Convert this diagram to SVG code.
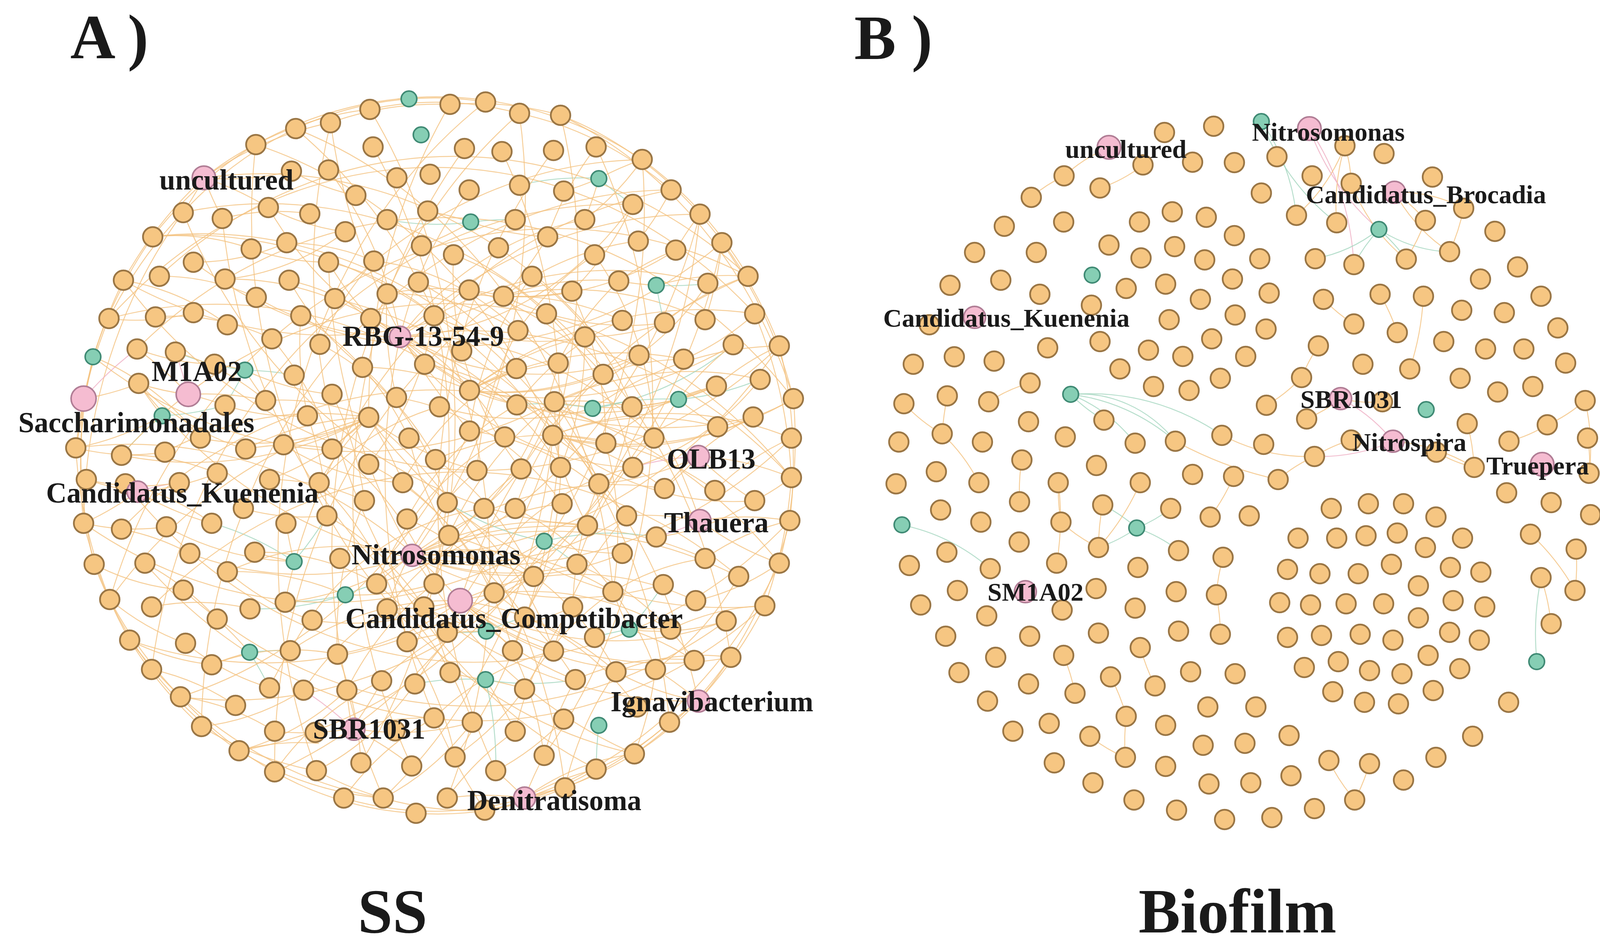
<svg xmlns="http://www.w3.org/2000/svg" width="6235" height="2436" viewBox="0 0 6235 2436">
<style>
.e path{fill:none;stroke:#f4c27f;stroke-width:2.4;opacity:.8;vector-effect:non-scaling-stroke}
.e path.g{stroke:#a3d6bf}
.e path.p{stroke:#f0b0c5}
.o circle{fill:#f6c682;stroke:#9a7645;stroke-width:4.5}
.g circle{fill:#86ceb4;stroke:#3f8a74;stroke-width:4}
.p circle{fill:#f5bcd1;stroke:#b07d95;stroke-width:4}
text{font-family:"Liberation Serif","Times New Roman",serif;font-weight:bold;fill:#1a1a1a}
.la{font-size:73px}.lb{font-size:66px}.lc{font-size:68px}
.h{font-size:160px}
.ti{font-size:160px;text-anchor:middle}
</style>
<rect width="6235" height="2436" fill="#ffffff"/>
<g id="connectors">
<g class="e" id="edges-A" transform="matrix(1.339 0 0 1.553 0 0)">
<path d="M782 163A700 700 0 0 1 928 168"/><path d="M860 172A700 700 0 0 1 1072 190"/><path d="M993 187A700 700 0 0 1 1283 313"/><path d="M1072 190A700 700 0 0 1 1338 353"/><path d="M1228 263A700 700 0 0 1 1430 455"/><path d="M1338 353A700 700 0 0 1 1490 570"/><path d="M1380 400A700 700 0 0 1 1517 657"/><path d="M1443 517A700 700 0 0 1 1513 787"/><path d="M1490 570A700 700 0 0 1 1510 858"/><path d="M1517 657A700 700 0 0 1 1490 928"/><path d="M1513 787A700 700 0 0 1 1462 998"/><path d="M1510 858A700 700 0 0 1 1397 1083"/><path d="M1462 998A700 700 0 0 1 1335 1155"/><path d="M1397 1083A700 700 0 0 1 1213 1242"/><path d="M1280 1190A700 700 0 0 1 1080 1298"/><path d="M1213 1242A700 700 0 0 1 1003 1315"/><path d="M1140 1267A700 700 0 0 1 927 1335"/><path d="M1080 1298A700 700 0 0 1 795 1340"/><path d="M1003 1315A700 700 0 0 1 657 1315"/><path d="M927 1335A700 700 0 0 1 605 1270"/><path d="M795 1340A700 700 0 0 1 525 1272"/><path d="M733 1315A700 700 0 0 1 457 1237"/><path d="M605 1270A700 700 0 0 1 385 1197"/><path d="M525 1272A700 700 0 0 1 345 1148"/><path d="M457 1237A700 700 0 0 1 290 1103"/><path d="M385 1197A700 700 0 0 1 248 1055"/><path d="M345 1148A700 700 0 0 1 210 988"/><path d="M290 1103A700 700 0 0 1 180 930"/><path d="M248 1055A700 700 0 0 1 160 862"/><path d="M210 988A700 700 0 0 1 145 738"/><path d="M180 930A700 700 0 0 1 160 657"/><path d="M160 862A700 700 0 0 1 178 588"/><path d="M145 738A700 700 0 0 1 208 525"/><path d="M160 657A700 700 0 0 1 236 462"/><path d="M178 588A700 700 0 0 1 292 390"/><path d="M208 525A700 700 0 0 1 350 350"/><path d="M236 462A700 700 0 0 1 390 293"/><path d="M292 390A700 700 0 0 1 489 238"/><path d="M350 350A700 700 0 0 1 565 212"/><path d="M390 293A700 700 0 0 1 632 202"/><path d="M489 238A700 700 0 0 1 707 180"/><path d="M565 212A700 700 0 0 1 782 163"/><path d="M632 202A700 700 0 0 1 860 172"/><path d="M707 180A700 700 0 0 1 993 187"/><path d="M1072 190A800 800 0 0 1 1517 657"/><path d="M1490 928A800 800 0 0 1 1003 1315"/><path d="M733 1315A800 800 0 0 1 248 1055"/><path d="M160 862A800 800 0 0 1 350 350"/><path d="M489 238A800 800 0 0 1 1228 263"/>
<path d="M765 555A600 600 0 0 1 1118 362"/><path d="M765 555A600 600 0 0 0 1210 337"/><path d="M765 555A600 600 0 0 1 897 313"/><path d="M765 555A600 600 0 0 0 628 280"/><path d="M765 555A900 900 0 0 1 1338 353"/><path d="M765 555A600 600 0 0 0 988 667"/><path d="M765 555A700 700 0 0 1 1250 722"/><path d="M765 555A900 900 0 0 0 1440 687"/><path d="M765 555A600 600 0 0 1 1072 770"/><path d="M765 555A600 600 0 0 0 1210 770"/><path d="M765 555A800 800 0 0 1 1353 467"/><path d="M765 555A600 600 0 0 1 513 342"/><path d="M765 555A600 600 0 0 0 430 460"/><path d="M765 555A600 600 0 0 1 490 490"/><path d="M765 555A600 600 0 0 0 1222 585"/>
<path d="M788 915A600 600 0 0 1 1123 866"/><path d="M788 915A600 600 0 0 0 1198 850"/><path d="M788 915A800 800 0 0 1 1348 920"/><path d="M788 915A600 600 0 0 0 1103 930"/><path d="M788 915A600 600 0 0 1 1172 975"/><path d="M788 915A700 700 0 0 0 1268 963"/><path d="M788 915A600 600 0 0 1 545 992"/><path d="M788 915A600 600 0 0 0 435 942"/><path d="M788 915A700 700 0 0 1 363 912"/><path d="M788 915A600 600 0 0 1 1020 950"/><path d="M788 915A600 600 0 0 0 720 962"/><path d="M788 915A900 900 0 0 1 1412 950"/><path d="M788 915A600 600 0 0 0 1190 912"/><path d="M788 915A700 700 0 0 1 1270 805"/><path d="M788 915A600 600 0 0 0 996 773"/>
<path d="M880 990A600 600 0 0 1 1282 1037"/><path d="M880 990A700 700 0 0 0 1388 1023"/><path d="M880 990A600 600 0 0 1 1330 990"/><path d="M880 990A600 600 0 0 0 1253 1103"/><path d="M880 990A600 600 0 0 1 1178 1107"/><path d="M880 990A600 600 0 0 0 1058 1073"/><path d="M880 990A600 600 0 0 1 980 1072"/><path d="M880 990A600 600 0 0 0 1100 1120"/><path d="M880 990A600 600 0 0 1 597 1022"/><path d="M880 990A600 600 0 0 0 555 1072"/><path d="M880 990A600 600 0 0 1 645 1078"/><path d="M880 990A800 800 0 0 0 1397 1083"/><path d="M880 990A600 600 0 0 1 740 1003"/>
<path d="M898 643A600 600 0 0 1 1118 555"/><path d="M898 643A600 600 0 0 0 1222 585"/><path d="M898 643A700 700 0 0 1 1307 592"/><path d="M898 643A800 800 0 0 0 1402 568"/><path d="M898 643A600 600 0 0 1 1067 598"/><path d="M898 643A600 600 0 0 0 1153 617"/><path d="M898 643A600 600 0 0 1 987 607"/><path d="M898 643A600 600 0 0 0 693 605"/><path d="M898 643A800 800 0 0 1 1443 517"/><path d="M898 643A700 700 0 0 0 1370 636"/>
<path d="M1057 717A600 600 0 0 1 1372 703"/><path d="M1057 717A600 600 0 0 0 1440 687"/><path d="M1057 717A700 700 0 0 1 1513 722"/><path d="M1057 717A700 700 0 0 0 1517 657"/><path d="M1057 717A600 600 0 0 1 1367 808"/><path d="M1057 717A600 600 0 0 0 1443 825"/><path d="M1057 717A600 600 0 0 1 1270 805"/><path d="M1057 717A600 600 0 0 0 1123 866"/><path d="M1057 717A600 600 0 0 1 1158 730"/><path d="M1057 717A600 600 0 0 0 833 757"/>
<path d="M963 488A600 600 0 0 1 1183 463"/><path d="M963 488A600 600 0 0 0 1270 532"/><path d="M963 488A700 700 0 0 1 1348 527"/><path d="M963 488A600 600 0 0 0 1093 480"/><path d="M963 488A600 600 0 0 1 1190 528"/><path d="M963 488A600 600 0 0 0 1292 412"/><path d="M963 488A600 600 0 0 1 1220 397"/><path d="M963 488A600 600 0 0 0 740 484"/><path d="M963 488A600 600 0 0 1 800 465"/><path d="M963 488A600 600 0 0 0 1047 390"/>
<path d="M705 688A600 600 0 0 1 542 733"/><path d="M705 688A600 600 0 0 0 470 740"/><path d="M705 688A600 600 0 0 1 383 722"/><path d="M705 688A700 700 0 0 0 315 745"/><path d="M705 688A800 800 0 0 1 232 750"/><path d="M705 688A600 600 0 0 0 635 740"/><path d="M705 688A600 600 0 0 1 515 790"/><path d="M705 688A600 600 0 0 0 610 795"/><path d="M705 688A600 600 0 0 1 770 795"/><path d="M705 688A600 600 0 0 0 912 775"/>
<path d="M1060 662A600 600 0 0 1 1208 670"/><path d="M1060 662A600 600 0 0 0 1250 722"/><path d="M1060 662A700 700 0 0 1 1453 625"/><path d="M1060 662A600 600 0 0 0 1370 636"/><path d="M1060 662A600 600 0 0 1 996 773"/><path d="M1060 662A600 600 0 0 0 1072 770"/><path d="M1060 662A600 600 0 0 1 1145 797"/><path d="M1060 662A600 600 0 0 0 858 882"/>
<path class="g" d="M1133 673A600 600 0 0 1 1297 658"/><path class="g" d="M1133 673A600 600 0 0 0 1402 568"/><path d="M1133 673A700 700 0 0 1 1490 570"/><path class="g" d="M1133 673A600 600 0 0 0 988 667"/><path d="M1133 673A600 600 0 0 1 840 670"/>
<path class="g" d="M1040 892A600 600 0 0 1 1255 885"/><path d="M1040 892A600 600 0 0 0 1190 912"/><path class="g" d="M1040 892A600 600 0 0 1 1103 930"/><path d="M1040 892A600 600 0 0 0 945 977"/><path class="g" d="M1040 892A600 600 0 0 1 855 828"/>
<path class="g" d="M660 980A600 600 0 0 1 720 962"/><path d="M660 980A600 600 0 0 0 830 962"/><path class="g" d="M660 980A600 600 0 0 1 545 992"/><path d="M660 980A600 600 0 0 0 435 942"/><path class="g" d="M660 980A600 600 0 0 1 478 1003"/>
<path d="M562 925A600 600 0 0 1 487 910"/><path class="g" d="M562 925A600 600 0 0 0 405 862"/><path d="M562 925A600 600 0 0 1 318 868"/><path class="g" d="M562 925A600 600 0 0 0 625 850"/><path d="M562 925A600 600 0 0 1 547 862"/>
<path class="g" d="M468 610A600 600 0 0 1 562 618"/><path d="M468 610A600 600 0 0 0 635 650"/><path class="g" d="M468 610A600 600 0 0 1 430 668"/><path d="M468 610A600 600 0 0 0 508 660"/><path class="g" d="M468 610A600 600 0 0 1 335 580"/><path d="M468 610A600 600 0 0 0 410 600"/>
<path d="M1145 294A600 600 0 0 1 1118 362"/><path class="g" d="M1145 294A600 600 0 0 0 993 305"/><path d="M1145 294A600 600 0 0 1 1078 315"/><path class="g" d="M1145 294A600 600 0 0 0 1210 337"/><path d="M1145 294A600 600 0 0 1 1228 263"/>
<path class="g" d="M900 366A600 600 0 0 1 985 362"/><path d="M900 366A600 600 0 0 0 818 348"/><path class="g" d="M900 366A600 600 0 0 1 740 362"/><path d="M900 366A600 600 0 0 0 1047 390"/><path d="M900 366A600 600 0 0 1 806 405"/>
<path d="M1255 470A600 600 0 0 1 1183 463"/><path class="g" d="M1255 470A600 600 0 0 0 1353 467"/><path d="M1255 470A600 600 0 0 1 1430 455"/><path class="g" d="M1255 470A600 600 0 0 0 1270 532"/>
<path class="g" d="M930 1040A600 600 0 0 1 1003 1017"/><path d="M930 1040A600 600 0 0 0 1095 1000"/><path class="g" d="M930 1040A600 600 0 0 1 855 1042"/><path d="M930 1040A600 600 0 0 0 778 1057"/><path d="M930 1040A600 600 0 0 1 810 1000"/>
<path d="M928 1120A600 600 0 0 1 1003 1135"/><path class="g" d="M928 1120A600 600 0 0 0 1100 1120"/><path d="M928 1120A600 600 0 0 1 860 1108"/><path class="g" d="M928 1120A600 600 0 0 0 793 1127"/><path d="M928 1120A600 600 0 0 1 985 1205"/>
<path d="M1203 1037A600 600 0 0 1 1282 1037"/><path class="g" d="M1203 1037A600 600 0 0 0 1137 1050"/><path d="M1203 1037A600 600 0 0 1 1172 975"/><path class="g" d="M1203 1037A600 600 0 0 0 1268 963"/><path d="M1203 1037A600 600 0 0 1 1327 1088"/>
<path class="g" d="M477 1075A600 600 0 0 1 555 1072"/><path d="M477 1075A600 600 0 0 0 405 1095"/><path class="g" d="M477 1075A600 600 0 0 1 515 1133"/><path d="M477 1075A600 600 0 0 0 415 1020"/>
<path d="M310 685A600 600 0 0 1 265 632"/><path class="g" d="M310 685A600 600 0 0 0 232 750"/><path d="M310 685A600 600 0 0 1 145 738"/><path class="g" d="M310 685A600 600 0 0 0 430 668"/>
<path d="M1297 658A600 600 0 0 1 1370 636"/><path class="g" d="M1297 658A600 600 0 0 0 1453 625"/><path d="M1297 658A600 600 0 0 1 1208 670"/><path d="M1297 658A600 600 0 0 0 1372 703"/>
<path d="M1335 752A600 600 0 0 1 1270 805"/><path class="p" d="M1335 752A600 600 0 0 0 1210 770"/><path d="M1335 752A600 600 0 0 1 1513 787"/><path d="M1335 752A600 600 0 0 0 1443 825"/><path d="M1335 752A600 600 0 0 1 1145 797"/>
<path d="M1338 858A600 600 0 0 1 1510 858"/><path d="M1338 858A600 600 0 0 0 1490 928"/><path class="p" d="M1338 858A600 600 0 0 1 1255 885"/><path d="M1338 858A600 600 0 0 0 1198 850"/>
<path d="M263 810A600 600 0 0 1 165 790"/><path d="M263 810A600 600 0 0 0 240 797"/><path class="p" d="M263 810A600 600 0 0 1 343 795"/><path d="M263 810A600 600 0 0 0 405 862"/><path d="M263 810A600 600 0 0 1 160 862"/><path d="M263 810A600 600 0 0 0 415 780"/>
<path d="M360 650A600 600 0 0 1 265 632"/><path class="p" d="M360 650A600 600 0 0 0 335 580"/><path d="M360 650A600 600 0 0 1 430 668"/><path d="M360 650A600 600 0 0 0 262 575"/><path d="M360 650A600 600 0 0 1 508 660"/>
<path d="M160 657A600 600 0 0 1 145 738"/><path d="M160 657A600 600 0 0 0 178 588"/><path class="p" d="M160 657A600 600 0 0 1 262 575"/><path d="M160 657A600 600 0 0 0 265 632"/>
<path d="M390 293A600 600 0 0 1 350 350"/><path d="M390 293A600 600 0 0 0 425 360"/><path d="M390 293A600 600 0 0 1 513 342"/><path d="M390 293A600 600 0 0 0 557 282"/><path d="M390 293A600 600 0 0 1 489 238"/>
<path d="M673 1200A600 600 0 0 1 830 1183"/><path d="M673 1200A600 600 0 0 0 903 1190"/><path d="M673 1200A600 600 0 0 1 525 1205"/><path class="p" d="M673 1200A600 600 0 0 0 580 1137"/><path d="M673 1200A600 600 0 0 1 663 1137"/><path d="M673 1200A600 600 0 0 0 730 1122"/><path d="M673 1200A600 600 0 0 1 787 1262"/>
<path d="M1003 1315A600 600 0 0 1 1080 1298"/><path d="M1003 1315A600 600 0 0 0 948 1270"/><path d="M1003 1315A600 600 0 0 1 1140 1267"/><path d="M1003 1315A600 600 0 0 0 855 1315"/><path d="M1003 1315A600 600 0 0 1 1040 1245"/>
<path d="M1335 1155A600 600 0 0 1 1280 1190"/><path d="M1335 1155A600 600 0 0 0 1397 1083"/><path d="M1335 1155A600 600 0 0 1 1213 1242"/><path d="M1335 1155A600 600 0 0 0 1253 1103"/><path d="M1335 1155A600 600 0 0 1 1178 1107"/>
<path d="M489 238A900 900 0 0 1 1057 717"/><path d="M632 202A900 900 0 0 0 898 710"/><path d="M707 180A900 900 0 0 1 830 962"/><path d="M860 172A900 900 0 0 0 705 688"/><path d="M993 187A900 900 0 0 1 788 915"/><path d="M1228 263A900 900 0 0 0 640 492"/><path d="M292 390A900 900 0 0 1 1057 717"/><path d="M236 462A900 900 0 0 0 963 488"/><path d="M208 525A900 900 0 0 1 898 643"/><path d="M178 588A900 900 0 0 0 1060 662"/><path d="M145 738A900 900 0 0 1 880 990"/><path d="M160 862A900 900 0 0 0 1040 892"/><path d="M210 988A900 900 0 0 1 705 688"/><path d="M345 1148A900 900 0 0 0 898 710"/><path d="M525 1272A900 900 0 0 1 963 488"/><path d="M733 1315A900 900 0 0 0 1057 717"/><path d="M927 1335A900 900 0 0 1 765 555"/><path d="M1080 1298A900 900 0 0 0 705 688"/><path d="M1213 1242A900 900 0 0 1 628 432"/><path d="M1335 1155A900 900 0 0 0 640 492"/><path d="M1462 998A900 900 0 0 1 705 688"/><path d="M1513 787A900 900 0 0 0 765 555"/><path d="M1490 570A900 900 0 0 1 788 915"/><path d="M1430 455A900 900 0 0 0 880 990"/><path d="M1338 353A900 900 0 0 1 720 962"/><path d="M1283 313A900 900 0 0 0 545 992"/><path d="M390 293A900 900 0 0 1 1338 858"/><path d="M350 350A900 900 0 0 0 1123 866"/><path d="M565 212A900 900 0 0 1 1172 975"/>
<path d="M713 242A900 900 0 0 1 690 1257"/><path d="M888 245A900 900 0 0 0 787 1262"/><path d="M960 250A900 900 0 0 1 870 1247"/><path d="M1058 248A900 900 0 0 0 948 1270"/><path d="M1140 242A900 900 0 0 1 1040 1245"/><path d="M632 202A900 900 0 0 0 1140 1267"/><path d="M565 212A900 900 0 0 1 855 1315"/><path d="M928 168A900 900 0 0 0 605 1270"/><path d="M1072 190A900 900 0 0 1 525 1272"/><path d="M993 187A900 900 0 0 0 733 1315"/>
<path d="M208 525A900 900 0 0 1 1443 517"/><path d="M236 462A900 900 0 0 0 1490 570"/><path d="M262 575A900 900 0 0 1 1517 657"/><path d="M265 632A900 900 0 0 0 1513 722"/><path d="M232 750A900 900 0 0 1 1513 787"/><path d="M240 797A900 900 0 0 0 1510 858"/><path d="M232 872A900 900 0 0 1 1490 928"/><path d="M277 928A900 900 0 0 0 1462 998"/><path d="M290 1000A900 900 0 0 1 1412 950"/><path d="M350 972A900 900 0 0 0 1388 1023"/><path d="M305 455A900 900 0 0 1 1430 455"/><path d="M370 432A900 900 0 0 0 1380 400"/>
<path d="M350 350A900 900 0 0 1 1397 1083"/><path d="M425 360A900 900 0 0 0 1335 1155"/><path d="M292 390A900 900 0 0 1 1280 1190"/><path d="M489 238A900 900 0 0 0 1213 1242"/><path d="M1338 353A900 900 0 0 1 345 1148"/><path d="M1283 313A900 900 0 0 0 385 1197"/><path d="M1228 263A900 900 0 0 1 457 1237"/><path d="M1210 337A900 900 0 0 0 290 1103"/><path d="M1380 400A900 900 0 0 1 248 1055"/><path d="M1430 455A900 900 0 0 0 210 988"/>
<path d="M628 432A500 500 0 0 1 830 520"/><path d="M628 432A500 500 0 0 0 709 525"/><path d="M715 430A500 500 0 0 1 990 545"/><path d="M715 430A500 500 0 0 0 612 567"/><path d="M867 420A500 500 0 0 1 1045 517"/><path d="M867 420A500 500 0 0 0 883 578"/><path d="M1137 420A500 500 0 0 0 990 545"/><path d="M1137 420A500 500 0 0 1 1250 722"/><path d="M553 462A500 500 0 0 1 812 600"/><path d="M553 462A500 500 0 0 0 693 605"/><path d="M740 484A500 500 0 0 1 1067 598"/><path d="M740 484A500 500 0 0 0 758 655"/><path d="M800 465A500 500 0 0 1 987 607"/><path d="M897 478A500 500 0 0 1 1153 617"/><path d="M897 478A500 500 0 0 0 840 670"/><path d="M1017 455A500 500 0 0 1 1208 670"/><path d="M1017 455A500 500 0 0 0 898 710"/><path d="M1093 480A500 500 0 0 1 1158 730"/><path d="M1183 463A500 500 0 0 0 1067 598"/><path d="M575 520A500 500 0 0 1 782 722"/><path d="M575 520A500 500 0 0 0 588 685"/><path d="M709 525A500 500 0 0 1 965 720"/><path d="M830 520A500 500 0 0 0 1118 555"/><path d="M830 520A500 500 0 0 1 705 765"/><path d="M1045 517A500 500 0 0 1 1210 770"/><path d="M1190 528A500 500 0 0 0 988 667"/><path d="M520 558A500 500 0 0 1 635 740"/><path d="M612 567A500 500 0 0 1 833 757"/><path d="M990 545A500 500 0 0 0 912 775"/><path d="M1118 555A500 500 0 0 1 1072 770"/><path d="M883 578A500 500 0 0 0 996 773"/><path d="M693 605A500 500 0 0 1 855 828"/><path d="M812 600A500 500 0 0 1 1145 797"/><path d="M987 607A500 500 0 0 0 770 795"/><path d="M1067 598A500 500 0 0 1 925 838"/><path d="M1153 617A500 500 0 0 0 985 838"/><path d="M635 650A500 500 0 0 1 697 825"/><path d="M758 655A500 500 0 0 1 1075 830"/><path d="M840 670A500 500 0 0 0 610 795"/><path d="M988 667A500 500 0 0 0 778 855"/><path d="M1208 670A500 500 0 0 1 1123 866"/><path d="M588 685A500 500 0 0 1 625 850"/><path d="M782 722A500 500 0 0 0 858 882"/><path d="M898 710A500 500 0 0 1 1198 850"/><path d="M965 720A500 500 0 0 0 720 962"/><path d="M1158 730A500 500 0 0 1 1172 975"/><path d="M1250 722A500 500 0 0 0 1103 930"/><path d="M635 740A500 500 0 0 1 830 962"/><path d="M705 765A500 500 0 0 1 945 977"/><path d="M833 757A500 500 0 0 1 1020 950"/><path d="M912 775A500 500 0 0 0 740 1003"/><path d="M996 773A500 500 0 0 0 810 1000"/><path d="M1072 770A500 500 0 0 1 1003 1017"/><path d="M1145 797A500 500 0 0 0 1095 1000"/><path d="M1210 770A500 500 0 0 0 855 1042"/><path d="M610 795A500 500 0 0 1 778 1057"/><path d="M770 795A500 500 0 0 1 980 1072"/><path d="M697 825A500 500 0 0 0 645 1078"/><path d="M855 828A500 500 0 0 1 1058 1073"/><path d="M925 838A500 500 0 0 0 555 1072"/><path d="M985 838A500 500 0 0 1 1253 1103"/><path d="M1075 830A500 500 0 0 0 740 1003"/><path d="M625 850A500 500 0 0 1 810 1000"/><path d="M778 855A500 500 0 0 1 1003 1017"/><path d="M858 882A500 500 0 0 1 1178 1107"/><path d="M1123 866A500 500 0 0 0 980 1072"/><path d="M1198 850A500 500 0 0 0 1058 1073"/><path d="M720 962A500 500 0 0 1 903 1190"/><path d="M830 962A500 500 0 0 0 663 1137"/><path d="M945 977A500 500 0 0 1 1100 1120"/><path d="M1020 950A500 500 0 0 0 793 1127"/><path d="M1172 975A500 500 0 0 0 1003 1135"/><path d="M1103 930A500 500 0 0 1 1327 1088"/><path d="M740 1003A500 500 0 0 0 580 1137"/><path d="M810 1000A500 500 0 0 1 860 1108"/><path d="M1003 1017A500 500 0 0 1 1218 1165"/><path d="M1095 1000A500 500 0 0 0 985 1205"/><path d="M855 1042A500 500 0 0 0 730 1122"/><path d="M778 1057A500 500 0 0 1 870 1247"/><path d="M980 1072A500 500 0 0 1 1040 1245"/><path d="M1058 1073A500 500 0 0 0 830 1183"/><path d="M645 1078A500 500 0 0 1 690 1257"/><path d="M555 1072A500 500 0 0 0 515 1133"/>
<path d="M292 390A500 500 0 0 1 480 410"/><path d="M370 432A500 500 0 0 0 548 400"/><path d="M305 455A500 500 0 0 1 490 490"/><path d="M430 460A500 500 0 0 0 660 382"/><path d="M236 462A500 500 0 0 1 435 535"/><path d="M208 525A500 500 0 0 0 370 515"/><path d="M297 522A500 500 0 0 1 520 558"/><path d="M262 575A500 500 0 0 0 410 600"/><path d="M335 580A500 500 0 0 1 508 660"/><path d="M265 632A500 500 0 0 0 470 740"/><path d="M178 588A500 500 0 0 1 383 722"/><path d="M145 738A500 500 0 0 0 315 745"/><path d="M232 750A500 500 0 0 1 415 780"/><path d="M165 790A500 500 0 0 0 343 795"/><path d="M240 797A500 500 0 0 1 405 862"/><path d="M160 862A500 500 0 0 0 318 868"/><path d="M232 872A500 500 0 0 1 363 912"/><path d="M180 930A500 500 0 0 0 350 972"/><path d="M277 928A500 500 0 0 1 415 1020"/><path d="M210 988A500 500 0 0 0 355 1060"/><path d="M290 1000A500 500 0 0 1 478 1003"/><path d="M248 1055A500 500 0 0 0 405 1095"/><path d="M290 1103A500 500 0 0 1 450 1162"/><path d="M355 1060A500 500 0 0 0 515 1133"/><path d="M345 1148A500 500 0 0 1 525 1205"/><path d="M385 1197A500 500 0 0 0 580 1137"/><path d="M457 1237A500 500 0 0 1 610 1225"/><path d="M405 1095A500 500 0 0 1 645 1078"/><path d="M435 942A500 500 0 0 0 597 1022"/><path d="M487 910A500 500 0 0 1 720 962"/><path d="M465 838A500 500 0 0 0 625 850"/><path d="M515 790A500 500 0 0 1 697 825"/><path d="M542 733A500 500 0 0 0 770 795"/><path d="M470 740A500 500 0 0 1 635 740"/><path d="M430 668A500 500 0 0 0 588 685"/><path d="M508 660A500 500 0 0 1 705 688"/><path d="M480 410A500 500 0 0 0 628 432"/><path d="M548 400A500 500 0 0 1 715 430"/><path d="M513 342A500 500 0 0 0 660 382"/><path d="M425 360A500 500 0 0 1 592 352"/><path d="M557 282A500 500 0 0 0 680 322"/>
<path d="M1283 313A500 500 0 0 1 1220 397"/><path d="M1338 353A500 500 0 0 0 1292 412"/><path d="M1380 400A500 500 0 0 1 1348 527"/><path d="M1430 455A500 500 0 0 0 1270 532"/><path d="M1443 517A500 500 0 0 1 1307 592"/><path d="M1490 570A500 500 0 0 0 1370 636"/><path d="M1517 657A500 500 0 0 1 1372 703"/><path d="M1513 722A500 500 0 0 0 1367 808"/><path d="M1513 787A500 500 0 0 1 1443 825"/><path d="M1510 858A500 500 0 0 0 1348 920"/><path d="M1490 928A500 500 0 0 1 1330 990"/><path d="M1462 998A500 500 0 0 0 1282 1037"/><path d="M1412 950A500 500 0 0 1 1253 1103"/><path d="M1397 1083A500 500 0 0 0 1178 1107"/><path d="M1353 467A500 500 0 0 1 1222 585"/><path d="M1402 568A500 500 0 0 0 1250 722"/><path d="M1453 625A500 500 0 0 1 1210 770"/><path d="M1440 687A500 500 0 0 0 1270 805"/><path d="M1443 825A500 500 0 0 1 1255 885"/><path d="M1348 920A500 500 0 0 0 1172 975"/><path d="M1388 1023A500 500 0 0 1 1203 1037"/><path d="M1327 1088A500 500 0 0 0 1100 1120"/><path d="M1228 263A500 500 0 0 1 1118 362"/><path d="M1140 242A500 500 0 0 0 1047 390"/><path d="M1210 337A500 500 0 0 1 1093 480"/><path d="M1292 412A500 500 0 0 0 1183 463"/><path d="M1270 532A500 500 0 0 1 1118 555"/><path d="M1307 592A500 500 0 0 0 1153 617"/><path d="M1222 585A500 500 0 0 1 1060 662"/><path d="M1370 636A500 500 0 0 0 1158 730"/>
<path d="M1280 1190A500 500 0 0 1 1140 1267"/><path d="M1213 1242A500 500 0 0 0 1003 1315"/><path d="M1078 1185A500 500 0 0 1 948 1270"/><path d="M985 1205A500 500 0 0 0 855 1315"/><path d="M903 1190A500 500 0 0 1 733 1315"/><path d="M830 1183A500 500 0 0 0 657 1315"/><path d="M793 1127A500 500 0 0 1 605 1270"/><path d="M730 1122A500 500 0 0 0 525 1272"/><path d="M663 1137A500 500 0 0 1 457 1237"/><path d="M1100 1120A500 500 0 0 0 1040 1245"/><path d="M1003 1135A500 500 0 0 1 870 1247"/><path d="M1178 1107A500 500 0 0 0 1080 1298"/><path d="M1253 1103A500 500 0 0 1 1213 1242"/><path class="g" d="M1145 1195A500 500 0 0 0 1140 1267"/><path class="g" d="M928 1120A500 500 0 0 1 948 1270"/>
</g>
<g class="e" id="edges-B" transform="matrix(1.339 0 0 1.553 2100 0)">
<path class="g" d="M843 200A300 300 0 0 1 910 355"/><path class="g" d="M843 200A400 400 0 0 0 987 367"/><path class="p" d="M935 212A400 400 0 0 1 1020 436"/><path d="M1003 240A300 300 0 0 1 910 355"/><path d="M1003 240A300 300 0 0 0 987 367"/><path d="M1003 240A200 200 0 0 1 1015 302"/><path class="p" d="M935 212A400 400 0 0 0 1068 378"/><path class="g" d="M1068 378A300 300 0 0 1 946 426"/><path class="g" d="M1068 378A300 300 0 0 0 1020 436"/><path class="g" d="M1068 378A300 300 0 0 1 1120 427"/><path class="g" d="M1068 378A300 300 0 0 0 1203 415"/><path d="M1098 317A300 300 0 0 1 1157 363"/><path d="M1098 317A300 300 0 0 0 1203 415"/><path d="M1098 317A300 300 0 0 1 1230 343"/><path d="M1157 363A300 300 0 0 1 1120 427"/><path d="M1230 343A300 300 0 0 1 1203 415"/><path d="M1015 302A300 300 0 0 0 1120 427"/><path d="M466 290A300 300 0 0 1 552 243"/><path d="M535 310A300 300 0 0 0 617 272"/><path d="M403 325A300 300 0 0 1 466 290"/><path d="M962 493A300 300 0 0 0 1020 534"/><path d="M1070 485A300 300 0 0 1 1103 548"/><path d="M1153 488A400 400 0 0 1 1127 608"/><path d="M952 570A300 300 0 0 0 920 622"/><path d="M920 622A300 300 0 0 1 853 668"/><path d="M995 657A300 300 0 0 1 930 690"/><path d="M995 657A300 300 0 0 0 1075 662"/><path class="p" d="M995 657A300 300 0 0 1 1095 727"/><path d="M945 752A300 300 0 0 1 1015 725"/><path class="p" d="M945 752A400 400 0 0 0 1095 727"/><path d="M875 790A300 300 0 0 1 945 752"/><path d="M768 717A400 400 0 0 0 945 752"/><path d="M679 727A800 800 0 0 0 875 790"/><path d="M1095 727A400 400 0 0 1 1250 770"/><path d="M1178 745A300 300 0 0 0 1250 770"/><path d="M1237 698A300 300 0 0 1 1250 770"/><path class="g" d="M479 650A400 400 0 0 1 679 727"/><path class="g" d="M479 650A300 300 0 0 1 602 730"/><path class="g" d="M479 650A300 300 0 0 0 542 692"/><path class="g" d="M479 650A500 500 0 0 1 768 717"/><path class="g" d="M479 650A250 250 0 0 1 679 727"/><path d="M160 665A300 300 0 0 0 233 715"/><path d="M322 662A300 300 0 0 1 401 631"/><path d="M233 715A300 300 0 0 1 303 795"/><path d="M243 652A400 400 0 0 0 233 715"/><path class="g" d="M156 865A400 400 0 0 1 325 937"/><path class="g" d="M605 870A300 300 0 0 1 532 902"/><path class="g" d="M605 870A300 300 0 0 0 540 832"/><path class="g" d="M605 870A300 300 0 0 1 685 907"/><path class="g" d="M605 870A300 300 0 0 0 670 838"/><path d="M532 902A300 300 0 0 1 540 832"/><path d="M532 902A400 400 0 0 0 612 795"/><path d="M532 902A300 300 0 0 1 460 860"/><path d="M455 795A300 300 0 0 0 460 860"/><path d="M455 795A400 400 0 0 1 452 928"/><path d="M381 827A300 300 0 0 1 385 758"/><path d="M770 918A300 300 0 0 0 757 980"/><path d="M757 980A300 300 0 0 1 765 1045"/><path d="M790 785A300 300 0 0 1 745 852"/><path d="M1390 700A300 300 0 0 0 1462 660"/><path d="M1462 660A300 300 0 0 1 1470 780"/><path d="M1467 722A200 200 0 0 1 1470 780"/><path d="M1317 727A300 300 0 0 0 1390 700"/><path d="M1358 880A400 400 0 0 1 1443 973"/><path d="M1378 952A300 300 0 0 1 1397 1028"/><path class="g" d="M1370 1090A400 400 0 0 1 1378 952"/><path d="M1445 905A300 300 0 0 1 1443 973"/><path d="M555 1115A300 300 0 0 1 585 1180"/><path d="M585 1180A300 300 0 0 0 583 1248"/><path d="M583 1248A300 300 0 0 1 515 1213"/><path d="M465 1080A300 300 0 0 1 487 1142"/><path d="M972 1253A300 300 0 0 0 1022 1318"/><path d="M1050 1258A300 300 0 0 1 1022 1318"/><path d="M612 1067A300 300 0 0 0 640 1130"/>
</g>
<g class="e" id="edges-C" transform="matrix(1.339 0 0 1.553 4135 0)">
<path d="M595 237A700 700 0 0 1 858 200"/><path d="M522 265A700 700 0 0 1 705 210"/><path d="M420 310A700 700 0 0 1 595 237"/><path d="M338 373A700 700 0 0 1 522 265"/><path d="M255 450A700 700 0 0 1 420 310"/><path d="M205 515A700 700 0 0 1 338 373"/><path d="M155 602A700 700 0 0 1 255 450"/><path d="M113 682A700 700 0 0 1 205 515"/><path d="M133 773A700 700 0 0 1 155 602"/><path d="M120 852A700 700 0 0 1 113 682"/><path d="M140 942A700 700 0 0 1 133 773"/><path d="M197 1053A700 700 0 0 1 120 852"/><path d="M248 1125A700 700 0 0 1 140 942"/><path d="M295 1190A700 700 0 0 1 197 1053"/><path d="M385 1232A700 700 0 0 1 248 1125"/><path d="M450 1280A700 700 0 0 1 295 1190"/><path d="M545 1330A700 700 0 0 1 385 1232"/><path d="M657 1340A700 700 0 0 1 450 1280"/><path d="M740 1362A700 700 0 0 1 545 1330"/><path d="M890 1347A700 700 0 0 1 657 1340"/><path d="M1057 1328A700 700 0 0 1 740 1362"/><path d="M1172 1262A700 700 0 0 1 890 1347"/><path d="M1263 1218A700 700 0 0 1 1057 1328"/><path d="M1317 1150A700 700 0 0 1 1172 1262"/><path d="M705 210A700 700 0 0 1 1070 225"/><path d="M858 200A700 700 0 0 1 1140 292"/><path d="M1070 225A700 700 0 0 1 1277 338"/><path d="M113 682A800 800 0 0 1 705 210"/><path d="M740 1362A800 800 0 0 1 140 942"/><path d="M197 1053A800 800 0 0 1 338 373"/>
<path class="p" d="M972 250A600 600 0 0 1 892 378"/><path class="p" d="M972 250A600 600 0 0 0 955 408"/><path class="p" d="M972 250A600 600 0 0 1 1005 362"/><path d="M972 250A600 600 0 0 0 1045 425"/><path class="p" d="M972 250A600 600 0 0 1 870 437"/><path d="M972 250A600 600 0 0 0 972 472"/><path class="p" d="M972 250A600 600 0 0 1 1037 492"/><path d="M972 250A600 600 0 0 0 1167 488"/><path class="p" d="M972 250A600 600 0 0 1 1165 405"/><path d="M972 250A600 600 0 0 0 795 402"/><path d="M972 250A600 600 0 0 1 712 393"/><path d="M972 250A600 600 0 0 0 878 245"/>
<path d="M853 320A600 600 0 0 1 697 327"/><path d="M853 320A600 600 0 0 0 780 343"/><path d="M853 320A600 600 0 0 1 640 415"/><path d="M853 320A600 600 0 0 0 550 408"/><path d="M853 320A600 600 0 0 1 892 378"/><path d="M853 320A600 600 0 0 0 955 408"/><path d="M853 320A600 600 0 0 1 470 388"/><path d="M853 320A600 600 0 0 0 593 472"/>
<path d="M858 200A600 600 0 0 1 705 210"/><path d="M858 200A600 600 0 0 0 595 237"/><path d="M858 200A600 600 0 0 1 768 283"/><path d="M858 200A600 600 0 0 0 878 245"/><path d="M858 200A600 600 0 0 1 697 327"/><path d="M858 200A600 600 0 0 0 522 265"/><path d="M858 200A600 600 0 0 1 640 415"/>
<path d="M870 437A600 600 0 0 1 755 462"/><path d="M870 437A600 600 0 0 0 678 478"/><path d="M870 437A600 600 0 0 1 830 492"/><path d="M870 437A600 600 0 0 0 912 498"/><path d="M870 437A600 600 0 0 1 972 472"/><path d="M870 437A600 600 0 0 0 1045 425"/><path d="M870 437A600 600 0 0 1 1167 488"/><path d="M870 437A600 600 0 0 0 593 472"/><path d="M870 437A600 600 0 0 1 520 488"/>
<path d="M340 605A600 600 0 0 1 155 602"/><path d="M340 605A600 600 0 0 0 237 632"/><path d="M340 605A600 600 0 0 1 307 682"/><path d="M340 605A600 600 0 0 0 408 680"/><path d="M340 605A600 600 0 0 1 490 600"/><path d="M340 605A600 600 0 0 0 220 718"/><path d="M340 605A600 600 0 0 1 113 682"/><path d="M340 605A600 600 0 0 0 205 515"/><path d="M340 605A600 600 0 0 1 280 545"/><path d="M340 605A600 600 0 0 0 475 543"/><path d="M340 605A600 600 0 0 1 497 727"/><path d="M340 605A600 600 0 0 0 332 755"/><path d="M340 605A800 800 0 0 1 750 528"/><path d="M340 605A800 800 0 0 0 865 615"/>
<path d="M865 615A600 600 0 0 1 768 612"/><path d="M865 615A600 600 0 0 0 695 603"/><path d="M865 615A600 600 0 0 1 748 667"/><path d="M865 615A600 600 0 0 0 827 665"/><path d="M865 615A600 600 0 0 1 938 630"/><path d="M865 615A600 600 0 0 0 1013 623"/><path d="M865 615A600 600 0 0 1 1110 630"/><path d="M865 615A600 600 0 0 0 985 700"/><path d="M865 615A600 600 0 0 1 823 735"/><path d="M865 615A600 600 0 0 0 723 742"/><path d="M865 615A700 700 0 0 1 1243 633"/><path d="M865 615A600 600 0 0 0 545 648"/><path d="M865 615A600 600 0 0 1 632 652"/>
<path d="M1040 557A600 600 0 0 1 1143 565"/><path d="M1040 557A600 600 0 0 0 1262 548"/><path d="M1040 557A600 600 0 0 1 1110 630"/><path d="M1040 557A600 600 0 0 0 900 563"/><path d="M1040 557A600 600 0 0 1 1167 488"/><path d="M1040 557A600 600 0 0 0 1243 633"/><path d="M1040 557A600 600 0 0 1 1187 697"/>
<path class="g" d="M622 352A600 600 0 0 1 500 327"/><path class="g" d="M622 352A600 600 0 0 0 470 388"/><path d="M622 352A600 600 0 0 1 550 408"/><path class="g" d="M622 352A600 600 0 0 0 640 415"/><path d="M622 352A600 600 0 0 1 697 327"/><path class="g" d="M622 352A600 600 0 0 0 593 472"/>
<path class="g" d="M1037 492A600 600 0 0 1 972 472"/><path d="M1037 492A600 600 0 0 0 1167 488"/><path class="g" d="M1037 492A600 600 0 0 1 1143 565"/><path d="M1037 492A600 600 0 0 0 1045 425"/>
<path class="g" d="M970 552A600 600 0 0 1 900 563"/><path d="M970 552A600 600 0 0 0 815 557"/><path class="g" d="M970 552A600 600 0 0 1 1013 623"/>
<path class="g" d="M900 700A600 600 0 0 1 823 735"/><path d="M900 700A600 600 0 0 0 985 700"/><path class="g" d="M900 700A600 600 0 0 1 1045 765"/><path d="M900 700A600 600 0 0 0 900 803"/><path class="g" d="M900 700A600 600 0 0 1 748 667"/>
<path d="M593 472A600 600 0 0 1 750 528"/><path d="M678 478A600 600 0 0 0 572 537"/><path d="M520 488A600 600 0 0 1 675 545"/><path d="M453 450A600 600 0 0 0 593 472"/><path d="M470 388A600 600 0 0 1 678 478"/><path d="M355 490A600 600 0 0 0 520 488"/><path d="M255 450A600 600 0 0 1 453 450"/><path d="M420 310A600 600 0 0 0 550 408"/><path d="M338 373A600 600 0 0 1 500 327"/><path d="M522 265A600 600 0 0 0 697 327"/><path d="M595 237A600 600 0 0 1 768 283"/><path d="M705 210A600 600 0 0 0 780 343"/><path d="M768 283A600 600 0 0 1 712 393"/><path d="M640 415A600 600 0 0 0 755 462"/><path d="M712 393A600 600 0 0 1 830 492"/><path d="M795 402A600 600 0 0 0 912 498"/><path d="M892 378A600 600 0 0 1 1005 362"/><path d="M955 408A600 600 0 0 0 1045 425"/><path d="M1140 292A600 600 0 0 1 1165 405"/><path d="M1165 405A600 600 0 0 0 1248 435"/><path d="M1167 488A600 600 0 0 1 1248 435"/><path d="M1262 548A600 600 0 0 0 1338 512"/><path d="M1143 565A600 600 0 0 1 1243 633"/><path d="M1110 630A600 600 0 0 0 1187 697"/><path d="M1013 623A600 600 0 0 1 1113 727"/><path d="M985 700A600 600 0 0 0 1113 727"/><path d="M827 665A600 600 0 0 1 823 735"/><path d="M748 667A600 600 0 0 0 657 717"/><path d="M632 652A600 600 0 0 1 585 737"/><path d="M545 648A600 600 0 0 0 497 727"/><path d="M408 680A600 600 0 0 1 497 727"/><path d="M307 682A600 600 0 0 0 332 755"/><path d="M220 718A600 600 0 0 1 332 755"/><path d="M155 602A600 600 0 0 0 220 718"/><path d="M205 515A600 600 0 0 1 355 490"/><path d="M572 537A600 600 0 0 0 475 543"/><path d="M675 545A600 600 0 0 1 815 557"/><path d="M750 528A600 600 0 0 0 900 563"/><path d="M830 492A600 600 0 0 1 912 498"/><path d="M755 462A600 600 0 0 0 1037 492"/><path d="M420 310A900 900 0 0 1 1013 623"/><path d="M500 327A900 900 0 0 0 1110 630"/><path d="M255 450A900 900 0 0 1 938 630"/><path d="M113 682A900 900 0 0 0 823 735"/><path d="M133 773A900 900 0 0 1 695 603"/><path d="M338 373A900 900 0 0 0 1045 765"/><path d="M1277 338A600 600 0 0 1 1248 435"/><path d="M1338 512A600 600 0 0 1 1442 540"/><path d="M1355 598A600 600 0 0 0 1475 628"/><path d="M1313 710A600 600 0 0 1 1411 685"/><path class="g" d="M1411 685A600 600 0 0 1 1493 735"/><path d="M1395 773A600 600 0 0 0 1497 822"/><path d="M1298 800A600 600 0 0 1 1395 773"/><path d="M1203 795A600 600 0 0 0 1298 800"/><path d="M1300 877A600 600 0 0 1 1407 860"/><path d="M1407 860A600 600 0 0 1 1475 915"/><path d="M1215 892A600 600 0 0 0 1300 877"/><path d="M1375 430A600 600 0 0 0 1277 338"/><path d="M1345 943A600 600 0 0 1 1445 995"/><path d="M1333 1027A600 600 0 0 0 1398 1080"/>
<path d="M705 210A500 500 0 0 1 795 402"/><path d="M705 210A500 500 0 0 0 640 415"/><path d="M595 237A500 500 0 0 1 712 393"/><path d="M595 237A500 500 0 0 0 550 408"/><path d="M522 265A500 500 0 0 1 640 415"/><path d="M522 265A500 500 0 0 0 470 388"/><path d="M768 283A500 500 0 0 1 892 378"/><path d="M768 283A500 500 0 0 0 593 472"/><path d="M878 245A500 500 0 0 0 955 408"/><path d="M878 245A500 500 0 0 1 795 402"/><path d="M1070 225A500 500 0 0 0 1005 362"/><path d="M1070 225A500 500 0 0 1 1165 405"/><path d="M1140 292A500 500 0 0 0 1045 425"/><path d="M1140 292A500 500 0 0 1 972 472"/><path d="M500 327A500 500 0 0 1 678 478"/><path d="M500 327A500 500 0 0 0 453 450"/><path d="M697 327A500 500 0 0 1 755 462"/><path d="M697 327A500 500 0 0 0 520 488"/><path d="M780 343A500 500 0 0 1 830 492"/><path d="M780 343A500 500 0 0 0 678 478"/><path d="M470 388A500 500 0 0 1 572 537"/><path d="M550 408A500 500 0 0 1 675 545"/><path d="M550 408A500 500 0 0 0 355 490"/><path d="M640 415A500 500 0 0 1 750 528"/><path d="M712 393A500 500 0 0 0 572 537"/><path d="M795 402A500 500 0 0 1 815 557"/><path d="M892 378A500 500 0 0 1 900 563"/><path d="M892 378A500 500 0 0 0 750 528"/><path d="M955 408A500 500 0 0 1 1040 557"/><path d="M955 408A500 500 0 0 0 830 492"/><path d="M1005 362A500 500 0 0 1 1143 565"/><path d="M1005 362A500 500 0 0 0 912 498"/><path d="M1045 425A500 500 0 0 1 1262 548"/><path d="M1165 405A500 500 0 0 0 1037 492"/><path d="M1167 488A500 500 0 0 1 1110 630"/><path d="M1248 435A500 500 0 0 0 1143 565"/><path d="M453 450A500 500 0 0 1 475 543"/><path d="M255 450A500 500 0 0 0 280 545"/><path d="M355 490A500 500 0 0 1 490 600"/><path d="M338 373A500 500 0 0 0 453 450"/><path d="M205 515A500 500 0 0 1 237 632"/><path d="M593 472A500 500 0 0 1 597 593"/><path d="M678 478A500 500 0 0 0 695 603"/><path d="M755 462A500 500 0 0 1 768 612"/><path d="M830 492A500 500 0 0 0 865 615"/><path d="M912 498A500 500 0 0 1 938 630"/><path d="M972 472A500 500 0 0 0 1013 623"/><path d="M520 488A500 500 0 0 1 545 648"/><path d="M475 543A500 500 0 0 0 632 652"/><path d="M572 537A500 500 0 0 1 748 667"/><path d="M675 545A500 500 0 0 0 827 665"/><path d="M750 528A500 500 0 0 1 900 700"/><path d="M815 557A500 500 0 0 0 985 700"/><path d="M900 563A500 500 0 0 1 1110 630"/><path d="M1143 565A500 500 0 0 0 1187 697"/><path d="M1262 548A500 500 0 0 1 1243 633"/><path d="M490 600A500 500 0 0 0 657 717"/><path d="M597 593A500 500 0 0 1 723 742"/><path d="M695 603A500 500 0 0 0 823 735"/><path d="M768 612A500 500 0 0 1 900 700"/><path d="M938 630A500 500 0 0 0 1045 765"/><path d="M1013 623A500 500 0 0 1 985 700"/><path d="M1110 630A500 500 0 0 0 1113 727"/><path d="M1243 633A500 500 0 0 1 1187 697"/><path d="M545 648A500 500 0 0 0 585 737"/><path d="M632 652A500 500 0 0 1 723 742"/><path d="M748 667A500 500 0 0 0 827 665"/><path d="M408 680A500 500 0 0 1 545 648"/><path d="M307 682A500 500 0 0 0 408 680"/><path d="M237 632A500 500 0 0 1 307 682"/><path d="M220 718A500 500 0 0 0 332 755"/><path d="M113 682A500 500 0 0 1 220 718"/><path d="M155 602A500 500 0 0 0 280 545"/><path d="M497 727A500 500 0 0 1 585 737"/><path d="M657 717A500 500 0 0 0 823 735"/><path d="M723 742A500 500 0 0 1 900 803"/><path d="M823 735A500 500 0 0 0 1045 765"/><path d="M985 700A500 500 0 0 1 1203 795"/><path d="M1187 697A500 500 0 0 0 1313 710"/><path d="M1113 727A500 500 0 0 1 1298 800"/><path d="M1045 765A500 500 0 0 0 1215 892"/><path d="M155 602A900 900 0 0 1 1110 630"/><path d="M205 515A900 900 0 0 0 1040 557"/><path d="M255 450A900 900 0 0 1 870 437"/><path d="M338 373A900 900 0 0 0 972 472"/><path d="M420 310A900 900 0 0 1 1167 488"/><path d="M113 682A900 900 0 0 0 985 700"/><path d="M220 718A900 900 0 0 1 1013 623"/><path d="M332 755A900 900 0 0 0 865 615"/><path d="M497 727A900 900 0 0 1 1243 633"/><path d="M595 237A900 900 0 0 0 823 735"/><path d="M705 210A900 900 0 0 1 748 667"/><path d="M858 200A900 900 0 0 0 900 700"/><path d="M1070 225A900 900 0 0 1 657 717"/><path d="M1140 292A900 900 0 0 0 585 737"/><path d="M1277 338A900 900 0 0 1 723 742"/>
<path d="M718 835A600 600 0 0 1 785 935"/><path d="M900 803A600 600 0 0 0 882 928"/><path d="M512 857A600 600 0 0 1 613 915"/><path d="M430 812A600 600 0 0 0 408 997"/><path d="M1003 862A600 600 0 0 1 922 1003"/><path d="M1122 852A600 600 0 0 0 1148 1015"/><path d="M312 852A600 600 0 0 1 310 960"/><path d="M718 835A900 900 0 0 1 1003 862"/><path d="M225 798A600 600 0 0 0 430 812"/><path d="M120 852A900 900 0 0 0 512 857"/><path d="M1045 765A600 600 0 0 1 1122 852"/><path d="M1203 795A600 600 0 0 0 1113 727"/><path d="M1203 795A900 900 0 0 1 823 735"/><path d="M430 812A900 900 0 0 1 900 803"/><path d="M718 835A600 600 0 0 0 827 665"/><path d="M900 803A600 600 0 0 1 1003 862"/>
<path d="M440 1060A600 600 0 0 1 305 1038"/><path d="M440 1060A600 600 0 0 0 197 1053"/><path d="M440 1060A600 600 0 0 1 248 1125"/><path class="p" d="M440 1060A600 600 0 0 0 343 1113"/><path d="M440 1060A600 600 0 0 1 490 1117"/><path d="M440 1060A600 600 0 0 0 545 1012"/><path class="p" d="M440 1060A600 600 0 0 1 622 998"/><path d="M440 1060A600 600 0 0 0 408 997"/><path d="M440 1060A600 600 0 0 1 580 1085"/><path d="M440 1060A600 600 0 0 0 295 1190"/><path d="M440 1060A600 600 0 0 1 648 1125"/><path d="M440 1060A600 600 0 0 0 213 983"/><path d="M440 1060A900 900 0 0 1 875 1058"/><path d="M440 1060A900 900 0 0 0 830 993"/>
<path d="M708 955A600 600 0 0 1 622 998"/><path d="M708 955A600 600 0 0 0 545 1012"/><path d="M708 955A600 600 0 0 1 830 993"/><path d="M708 955A600 600 0 0 0 673 1052"/><path d="M708 955A600 600 0 0 1 792 1077"/><path d="M708 955A600 600 0 0 0 785 935"/><path d="M708 955A600 600 0 0 1 613 915"/><path d="M708 955A900 900 0 0 0 1033 1023"/>
<path d="M983 960A600 600 0 0 1 922 1003"/><path d="M983 960A600 600 0 0 0 1033 1023"/><path d="M983 960A600 600 0 0 1 1148 1015"/><path d="M983 960A600 600 0 0 0 875 1058"/><path d="M983 960A600 600 0 0 1 963 1077"/><path d="M983 960A600 600 0 0 0 1038 1090"/><path d="M983 960A600 600 0 0 1 830 993"/><path d="M983 960A600 600 0 0 0 882 928"/><path d="M983 960A600 600 0 0 1 1107 935"/><path d="M983 960A900 900 0 0 0 1240 985"/><path d="M983 960A900 900 0 0 1 622 998"/>
<path class="g" d="M742 1020A600 600 0 0 1 673 1052"/><path class="g" d="M742 1020A600 600 0 0 0 792 1077"/><path d="M742 1020A600 600 0 0 1 648 1125"/><path class="g" d="M742 1020A600 600 0 0 0 720 1125"/><path d="M742 1020A600 600 0 0 1 875 1058"/>
<path class="g" d="M455 1175A600 600 0 0 1 570 1173"/><path d="M455 1175A600 600 0 0 0 385 1232"/><path class="g" d="M455 1175A600 600 0 0 1 343 1113"/><path d="M455 1175A600 600 0 0 0 558 1245"/><path class="g" d="M455 1175A600 600 0 0 1 490 1117"/><path class="g" d="M455 1175A900 900 0 0 1 828 1228"/>
<path class="g" d="M828 1228A600 600 0 0 1 742 1205"/><path d="M828 1228A600 600 0 0 0 898 1192"/><path class="g" d="M828 1228A600 600 0 0 1 745 1275"/><path d="M828 1228A600 600 0 0 0 890 1270"/><path class="g" d="M828 1228A600 600 0 0 1 813 1310"/>
<path class="g" d="M968 1230A600 600 0 0 1 898 1192"/><path d="M968 1230A600 600 0 0 0 1037 1197"/><path class="g" d="M968 1230A600 600 0 0 1 970 1148"/><path d="M968 1230A600 600 0 0 0 970 1298"/><path class="g" d="M968 1230A600 600 0 0 1 890 1270"/>
<path class="g" d="M1037 1197A600 600 0 0 1 1087 1148"/><path d="M1037 1197A600 600 0 0 0 1087 1260"/><path class="g" d="M1037 1197A600 600 0 0 1 1190 1165"/><path d="M1037 1197A600 600 0 0 0 970 1148"/>
<path class="g" d="M740 1362A600 600 0 0 1 657 1340"/><path class="g" d="M740 1362A600 600 0 0 0 813 1310"/><path class="g" d="M740 1362A600 600 0 0 1 662 1257"/><path d="M740 1362A600 600 0 0 0 890 1347"/><path class="g" d="M740 1362A800 800 0 0 1 450 1280"/>
<path d="M800 1150A600 600 0 0 1 880 1125"/><path d="M720 1125A600 600 0 0 0 800 1150"/><path d="M880 1125A600 600 0 0 1 970 1148"/><path d="M1087 1148A600 600 0 0 0 1190 1165"/><path d="M1165 1090A600 600 0 0 1 1258 1088"/><path d="M1258 1088A600 600 0 0 0 1317 1150"/><path d="M1263 1218A600 600 0 0 1 1172 1262"/><path d="M1057 1328A600 600 0 0 0 1087 1260"/><path d="M890 1347A600 600 0 0 1 1057 1328"/><path d="M545 1330A600 600 0 0 0 657 1340"/><path d="M450 1280A600 600 0 0 1 545 1330"/><path d="M385 1232A600 600 0 0 0 450 1280"/><path d="M295 1190A600 600 0 0 1 385 1232"/><path d="M248 1125A600 600 0 0 0 295 1190"/><path d="M197 1053A600 600 0 0 1 248 1125"/><path d="M213 983A600 600 0 0 0 197 1053"/><path d="M570 1173A600 600 0 0 1 655 1193"/><path d="M655 1193A600 600 0 0 0 742 1205"/><path d="M558 1245A600 600 0 0 1 662 1257"/><path d="M662 1257A600 600 0 0 0 745 1275"/><path d="M745 1275A600 600 0 0 1 890 1270"/><path d="M898 1192A600 600 0 0 0 970 1148"/><path d="M1148 1015A600 600 0 0 1 1165 1090"/><path d="M1240 985A600 600 0 0 0 1333 1027"/><path d="M1033 1023A600 600 0 0 1 1165 1090"/><path d="M922 1003A600 600 0 0 0 963 1077"/><path d="M875 1058A600 600 0 0 1 880 1125"/><path d="M792 1077A600 600 0 0 0 800 1150"/><path d="M673 1052A600 600 0 0 1 720 1125"/><path d="M580 1085A600 600 0 0 0 648 1125"/><path d="M490 1117A600 600 0 0 1 570 1173"/><path d="M343 1113A600 600 0 0 0 295 1190"/><path d="M305 1038A600 600 0 0 1 343 1113"/><path d="M408 997A600 600 0 0 0 545 1012"/><path d="M545 1012A600 600 0 0 1 622 998"/><path d="M213 983A900 900 0 0 1 1165 1090"/><path d="M197 1053A900 900 0 0 0 1087 1260"/><path d="M248 1125A900 900 0 0 1 1258 1088"/><path d="M295 1190A900 900 0 0 0 968 1230"/><path d="M140 942A900 900 0 0 1 983 960"/><path d="M1398 1080A900 900 0 0 0 708 955"/><path d="M1317 1150A900 900 0 0 1 545 1012"/><path d="M1445 995A900 900 0 0 0 742 1020"/><path d="M1263 1218A900 900 0 0 1 440 1060"/><path d="M1172 1262A900 900 0 0 0 455 1175"/><path d="M1057 1328A900 900 0 0 1 305 1038"/><path d="M213 983A900 900 0 0 0 1033 1023"/>
<path d="M213 983A500 500 0 0 1 408 997"/><path d="M305 1038A500 500 0 0 0 490 1117"/><path d="M197 1053A500 500 0 0 1 343 1113"/><path d="M248 1125A500 500 0 0 0 455 1175"/><path d="M295 1190A500 500 0 0 1 490 1117"/><path d="M385 1232A500 500 0 0 0 570 1173"/><path d="M450 1280A500 500 0 0 1 655 1193"/><path d="M545 1330A500 500 0 0 0 662 1257"/><path d="M657 1340A500 500 0 0 1 745 1275"/><path d="M813 1310A500 500 0 0 0 890 1270"/><path d="M890 1347A500 500 0 0 1 970 1298"/><path d="M970 1298A500 500 0 0 0 1087 1260"/><path d="M1057 1328A500 500 0 0 1 1172 1262"/><path d="M1087 1260A500 500 0 0 0 1263 1218"/><path d="M1190 1165A500 500 0 0 1 1317 1150"/><path d="M1258 1088A500 500 0 0 0 1190 1165"/><path d="M1165 1090A500 500 0 0 1 1087 1148"/><path d="M1038 1090A500 500 0 0 0 1087 1148"/><path d="M963 1077A500 500 0 0 1 970 1148"/><path d="M875 1058A500 500 0 0 0 800 1150"/><path d="M792 1077A500 500 0 0 1 880 1125"/><path d="M673 1052A500 500 0 0 0 648 1125"/><path d="M580 1085A500 500 0 0 1 570 1173"/><path d="M490 1117A500 500 0 0 0 655 1193"/><path d="M545 1012A500 500 0 0 1 673 1052"/><path d="M622 998A500 500 0 0 0 792 1077"/><path d="M830 993A500 500 0 0 1 963 1077"/><path d="M922 1003A500 500 0 0 0 1038 1090"/><path d="M1033 1023A500 500 0 0 1 1087 1148"/><path d="M1148 1015A500 500 0 0 0 1258 1088"/><path d="M1240 985A500 500 0 0 1 1165 1090"/><path d="M1333 1027A500 500 0 0 0 1258 1088"/><path d="M1398 1080A500 500 0 0 1 1317 1150"/><path d="M1445 995A500 500 0 0 0 1333 1027"/><path d="M720 1125A500 500 0 0 1 742 1205"/><path d="M648 1125A500 500 0 0 0 655 1193"/><path d="M800 1150A500 500 0 0 1 898 1192"/><path d="M880 1125A500 500 0 0 0 1037 1197"/><path d="M970 1148A500 500 0 0 1 1087 1260"/><path d="M1087 1148A500 500 0 0 0 968 1230"/><path d="M1190 1165A500 500 0 0 1 1172 1262"/><path d="M742 1205A500 500 0 0 0 890 1270"/><path d="M655 1193A500 500 0 0 1 813 1310"/><path d="M570 1173A500 500 0 0 0 662 1257"/><path d="M558 1245A500 500 0 0 1 657 1340"/><path d="M385 1232A500 500 0 0 0 545 1330"/><path d="M898 1192A500 500 0 0 1 1057 1328"/><path d="M1037 1197A500 500 0 0 0 1172 1262"/><path d="M213 983A900 900 0 0 1 1240 985"/><path d="M197 1053A900 900 0 0 0 1148 1015"/><path d="M248 1125A900 900 0 0 1 1190 1165"/><path d="M295 1190A900 900 0 0 0 1087 1260"/><path d="M385 1232A900 900 0 0 1 1172 1262"/><path d="M450 1280A900 900 0 0 0 1057 1328"/><path d="M305 1038A900 900 0 0 1 1165 1090"/><path d="M408 997A900 900 0 0 0 1258 1088"/><path d="M545 1012A900 900 0 0 1 1317 1150"/><path d="M622 998A900 900 0 0 0 1263 1218"/><path d="M830 993A900 900 0 0 1 545 1330"/><path d="M983 960A900 900 0 0 0 450 1280"/><path d="M1033 1023A900 900 0 0 1 385 1232"/><path d="M1148 1015A900 900 0 0 0 295 1190"/><path d="M1240 985A900 900 0 0 1 248 1125"/><path d="M140 942A900 900 0 0 0 1333 1027"/><path d="M120 852A900 900 0 0 1 708 955"/><path d="M133 773A900 900 0 0 0 440 1060"/>
</g>
</g>
<g id="nodes-A">
<g class="o">
<g id="a1"><circle cx="947" cy="280" r="25"/></g><g id="a2"><circle cx="1152" cy="267" r="25"/></g><g id="a3"><circle cx="1243" cy="261" r="25"/></g><g id="a4"><circle cx="1330" cy="290" r="25"/></g><g id="a5"><circle cx="1435" cy="295" r="25"/></g>
<g id="a6"><circle cx="846" cy="314" r="25"/></g><g id="a7"><circle cx="757" cy="329" r="25"/></g><g id="a8"><circle cx="655" cy="370" r="25"/></g><g id="a9"><circle cx="955" cy="376" r="25"/></g><g id="a10"><circle cx="1189" cy="380" r="25"/></g><g id="a11"><circle cx="1285" cy="388" r="25"/></g><g id="a12"><circle cx="1417" cy="385" r="25"/></g><g id="a13"><circle cx="1526" cy="376" r="25"/></g><g id="a14"><circle cx="1644" cy="408" r="25"/></g>
<g id="a15"><circle cx="746" cy="438" r="25"/></g><g id="a16"><circle cx="841" cy="435" r="25"/></g><g id="a17"><circle cx="1016" cy="455" r="25"/></g><g id="a18"><circle cx="1101" cy="446" r="25"/></g><g id="a19"><circle cx="1201" cy="486" r="25"/></g><g id="a20"><circle cx="1330" cy="474" r="25"/></g><g id="a21"><circle cx="1443" cy="489" r="25"/></g><g id="a22"><circle cx="1718" cy="486" r="25"/></g>
<g id="a23"><circle cx="469" cy="544" r="25"/></g><g id="a24"><circle cx="569" cy="559" r="25"/></g><g id="a25"><circle cx="687" cy="531" r="25"/></g><g id="a26"><circle cx="793" cy="547" r="25"/></g><g id="a27"><circle cx="911" cy="500" r="25"/></g><g id="a28"><circle cx="991" cy="562" r="25"/></g><g id="a29"><circle cx="1095" cy="540" r="25"/></g><g id="a30"><circle cx="1319" cy="562" r="25"/></g><g id="a31"><circle cx="1497" cy="562" r="25"/></g><g id="a32"><circle cx="1620" cy="523" r="25"/></g><g id="a33"><circle cx="1792" cy="548" r="25"/></g>
<g id="a34"><circle cx="391" cy="606" r="25"/></g><g id="a35"><circle cx="643" cy="637" r="25"/></g><g id="a36"><circle cx="734" cy="621" r="25"/></g><g id="a37"><circle cx="884" cy="593" r="25"/></g><g id="a38"><circle cx="1079" cy="629" r="25"/></g><g id="a39"><circle cx="1276" cy="634" r="25"/></g><g id="a40"><circle cx="1402" cy="606" r="25"/></g><g id="a41"><circle cx="1634" cy="617" r="25"/></g><g id="a42"><circle cx="1730" cy="640" r="25"/></g><g id="a43"><circle cx="1848" cy="621" r="25"/></g>
<g id="a44"><circle cx="495" cy="671" r="25"/></g><g id="a45"><circle cx="408" cy="707" r="25"/></g><g id="a46"><circle cx="576" cy="714" r="25"/></g><g id="a47"><circle cx="841" cy="671" r="25"/></g><g id="a48"><circle cx="957" cy="668" r="25"/></g><g id="a49"><circle cx="1161" cy="652" r="25"/></g><g id="a50"><circle cx="1522" cy="652" r="25"/></g><g id="a51"><circle cx="316" cy="717" r="25"/></g><g id="a52"><circle cx="740" cy="717" r="25"/></g><g id="a53"><circle cx="991" cy="752" r="25"/></g><g id="a54"><circle cx="1071" cy="722" r="25"/></g><g id="a55"><circle cx="1201" cy="742" r="25"/></g><g id="a56"><circle cx="1289" cy="758" r="25"/></g><g id="a57"><circle cx="1362" cy="707" r="25"/></g><g id="a58"><circle cx="1464" cy="745" r="25"/></g><g id="a59"><circle cx="1584" cy="719" r="25"/></g><g id="a60"><circle cx="1812" cy="725" r="25"/></g><g id="a61"><circle cx="1915" cy="707" r="25"/></g>
<g id="a62"><circle cx="656" cy="761" r="25"/></g><g id="a63"><circle cx="857" cy="764" r="25"/></g><g id="a64"><circle cx="279" cy="815" r="25"/></g><g id="a65"><circle cx="398" cy="811" r="25"/></g><g id="a66"><circle cx="495" cy="800" r="25"/></g><g id="a67"><circle cx="582" cy="831" r="25"/></g><g id="a68"><circle cx="770" cy="808" r="25"/></g><g id="a69"><circle cx="949" cy="815" r="25"/></g><g id="a70"><circle cx="1111" cy="808" r="25"/></g><g id="a71"><circle cx="1399" cy="803" r="25"/></g><g id="a72"><circle cx="1593" cy="820" r="25"/></g><g id="a73"><circle cx="1701" cy="826" r="25"/></g><g id="a74"><circle cx="1805" cy="818" r="25"/></g><g id="a75"><circle cx="1932" cy="803" r="25"/></g>
<g id="a76"><circle cx="351" cy="893" r="25"/></g><g id="a77"><circle cx="696" cy="867" r="25"/></g><g id="a78"><circle cx="819" cy="881" r="25"/></g><g id="a79"><circle cx="1326" cy="846" r="25"/></g><g id="a80"><circle cx="1497" cy="862" r="25"/></g><g id="a81"><circle cx="1636" cy="909" r="25"/></g><g id="a82"><circle cx="1750" cy="919" r="25"/></g><g id="a83"><circle cx="1877" cy="882" r="25"/></g><g id="a84"><circle cx="1995" cy="885" r="25"/></g><g id="a85"><circle cx="449" cy="901" r="25"/></g><g id="a86"><circle cx="549" cy="932" r="25"/></g><g id="a87"><circle cx="1182" cy="898" r="25"/></g><g id="a88"><circle cx="928" cy="940" r="25"/></g><g id="a89"><circle cx="1087" cy="932" r="25"/></g><g id="a90"><circle cx="1322" cy="943" r="25"/></g><g id="a91"><circle cx="1429" cy="929" r="25"/></g><g id="a92"><circle cx="1544" cy="958" r="25"/></g>
<g id="a93"><circle cx="753" cy="960" r="25"/></g><g id="a94"><circle cx="355" cy="981" r="25"/></g><g id="a95"><circle cx="850" cy="1009" r="25"/></g><g id="a96"><circle cx="1015" cy="1017" r="25"/></g><g id="a97"><circle cx="1125" cy="1041" r="25"/></g><g id="a98"><circle cx="1202" cy="999" r="25"/></g><g id="a99"><circle cx="1323" cy="1036" r="25"/></g><g id="a100"><circle cx="1419" cy="1028" r="25"/></g><g id="a101"><circle cx="1618" cy="1041" r="25"/></g><g id="a102"><circle cx="1834" cy="988" r="25"/></g><g id="a103"><circle cx="1946" cy="971" r="25"/></g><g id="a104"><circle cx="2031" cy="1020" r="25"/></g>
<g id="a105"><circle cx="576" cy="1037" r="25"/></g><g id="a106"><circle cx="680" cy="1025" r="25"/></g><g id="a107"><circle cx="787" cy="1064" r="25"/></g><g id="a108"><circle cx="944" cy="1068" r="25"/></g><g id="a109"><circle cx="1047" cy="1121" r="25"/></g><g id="a110"><circle cx="1202" cy="1103" r="25"/></g><g id="a111"><circle cx="1292" cy="1118" r="25"/></g><g id="a112"><circle cx="1415" cy="1114" r="25"/></g><g id="a113"><circle cx="1551" cy="1134" r="25"/></g><g id="a114"><circle cx="1674" cy="1121" r="25"/></g><g id="a115"><circle cx="1837" cy="1092" r="25"/></g><g id="a116"><circle cx="1928" cy="1067" r="25"/></g><g id="a117"><circle cx="2026" cy="1121" r="25"/></g>
<g id="a118"><circle cx="194" cy="1146" r="25"/></g><g id="a119"><circle cx="311" cy="1165" r="25"/></g><g id="a120"><circle cx="422" cy="1157" r="25"/></g><g id="a121"><circle cx="513" cy="1121" r="25"/></g><g id="a122"><circle cx="629" cy="1149" r="25"/></g><g id="a123"><circle cx="726" cy="1138" r="25"/></g><g id="a124"><circle cx="850" cy="1149" r="25"/></g><g id="a125"><circle cx="944" cy="1188" r="25"/></g><g id="a126"><circle cx="1115" cy="1176" r="25"/></g><g id="a127"><circle cx="1221" cy="1204" r="25"/></g><g id="a128"><circle cx="1334" cy="1200" r="25"/></g><g id="a129"><circle cx="1435" cy="1196" r="25"/></g><g id="a130"><circle cx="1533" cy="1238" r="25"/></g><g id="a131"><circle cx="1620" cy="1196" r="25"/></g><g id="a132"><circle cx="2026" cy="1222" r="25"/></g>
<g id="a133"><circle cx="221" cy="1227" r="25"/></g><g id="a134"><circle cx="321" cy="1238" r="25"/></g><g id="a135"><circle cx="459" cy="1235" r="25"/></g><g id="a136"><circle cx="556" cy="1211" r="25"/></g><g id="a137"><circle cx="690" cy="1227" r="25"/></g><g id="a138"><circle cx="817" cy="1235" r="25"/></g><g id="a139"><circle cx="1031" cy="1235" r="25"/></g><g id="a140"><circle cx="933" cy="1281" r="25"/></g><g id="a141"><circle cx="1145" cy="1286" r="25"/></g><g id="a142"><circle cx="1239" cy="1301" r="25"/></g><g id="a143"><circle cx="1319" cy="1301" r="25"/></g><g id="a144"><circle cx="1439" cy="1289" r="25"/></g><g id="a145"><circle cx="1701" cy="1250" r="25"/></g><g id="a146"><circle cx="1830" cy="1255" r="25"/></g><g id="a147"><circle cx="1932" cy="1281" r="25"/></g>
<g id="a148"><circle cx="214" cy="1339" r="25"/></g><g id="a149"><circle cx="311" cy="1354" r="25"/></g><g id="a150"><circle cx="426" cy="1348" r="25"/></g><g id="a151"><circle cx="542" cy="1339" r="25"/></g><g id="a152"><circle cx="623" cy="1301" r="25"/></g><g id="a153"><circle cx="732" cy="1339" r="25"/></g><g id="a154"><circle cx="837" cy="1320" r="25"/></g><g id="a155"><circle cx="1042" cy="1328" r="25"/></g><g id="a156"><circle cx="1149" cy="1370" r="25"/></g><g id="a157"><circle cx="1504" cy="1345" r="25"/></g><g id="a158"><circle cx="1604" cy="1320" r="25"/></g><g id="a159"><circle cx="2022" cy="1332" r="25"/></g><g id="a160"><circle cx="1680" cy="1374" r="25"/></g>
<g id="a161"><circle cx="241" cy="1444" r="25"/></g><g id="a162"><circle cx="371" cy="1441" r="25"/></g><g id="a163"><circle cx="486" cy="1416" r="25"/></g><g id="a164"><circle cx="652" cy="1413" r="25"/></g><g id="a165"><circle cx="870" cy="1429" r="25"/></g><g id="a166"><circle cx="1477" cy="1444" r="25"/></g><g id="a167"><circle cx="1593" cy="1416" r="25"/></g><g id="a168"><circle cx="1805" cy="1429" r="25"/></g><g id="a169"><circle cx="1995" cy="1441" r="25"/></g>
<g id="a170"><circle cx="281" cy="1534" r="25"/></g><g id="a171"><circle cx="388" cy="1553" r="25"/></g><g id="a172"><circle cx="469" cy="1510" r="25"/></g><g id="a173"><circle cx="582" cy="1463" r="25"/></g><g id="a174"><circle cx="730" cy="1541" r="25"/></g><g id="a175"><circle cx="964" cy="1494" r="25"/></g><g id="a176"><circle cx="1111" cy="1494" r="25"/></g><g id="a177"><circle cx="1265" cy="1517" r="25"/></g><g id="a178"><circle cx="1366" cy="1475" r="25"/></g><g id="a179"><circle cx="1569" cy="1514" r="25"/></g><g id="a180"><circle cx="1698" cy="1496" r="25"/></g><g id="a181"><circle cx="1891" cy="1475" r="25"/></g><g id="a182"><circle cx="1958" cy="1550" r="25"/></g><g id="a183"><circle cx="1781" cy="1537" r="25"/></g>
<g id="a184"><circle cx="332" cy="1638" r="25"/></g><g id="a185"><circle cx="475" cy="1646" r="25"/></g><g id="a186"><circle cx="556" cy="1584" r="25"/></g><g id="a187"><circle cx="640" cy="1558" r="25"/></g><g id="a188"><circle cx="799" cy="1587" r="25"/></g><g id="a189"><circle cx="991" cy="1558" r="25"/></g><g id="a190"><circle cx="1085" cy="1553" r="25"/></g><g id="a191"><circle cx="1343" cy="1579" r="25"/></g><g id="a192"><circle cx="1466" cy="1553" r="25"/></g><g id="a193"><circle cx="1717" cy="1610" r="25"/></g><g id="a194"><circle cx="1859" cy="1589" r="25"/></g><g id="a195"><circle cx="1522" cy="1631" r="25"/></g><g id="a196"><circle cx="1145" cy="1618" r="25"/></g>
<g id="a197"><circle cx="388" cy="1713" r="25"/></g><g id="a198"><circle cx="542" cy="1701" r="25"/></g><g id="a199"><circle cx="743" cy="1665" r="25"/></g><g id="a200"><circle cx="864" cy="1674" r="25"/></g><g id="a201"><circle cx="1042" cy="1642" r="25"/></g><g id="a202"><circle cx="1312" cy="1665" r="25"/></g><g id="a203"><circle cx="1417" cy="1666" r="25"/></g><g id="a204"><circle cx="1577" cy="1719" r="25"/></g><g id="a205"><circle cx="1678" cy="1713" r="25"/></g><g id="a206"><circle cx="1777" cy="1690" r="25"/></g><g id="a207"><circle cx="1871" cy="1682" r="25"/></g>
<g id="a208"><circle cx="462" cy="1783" r="25"/></g><g id="a209"><circle cx="603" cy="1805" r="25"/></g><g id="a210"><circle cx="690" cy="1760" r="25"/></g><g id="a211"><circle cx="777" cy="1766" r="25"/></g><g id="a212"><circle cx="888" cy="1766" r="25"/></g><g id="a213"><circle cx="977" cy="1742" r="25"/></g><g id="a214"><circle cx="1062" cy="1750" r="25"/></g><g id="a215"><circle cx="1152" cy="1721" r="25"/></g><g id="a216"><circle cx="1343" cy="1763" r="25"/></g><g id="a217"><circle cx="1473" cy="1739" r="25"/></g>
<g id="a218"><circle cx="516" cy="1859" r="25"/></g><g id="a219"><circle cx="703" cy="1871" r="25"/></g><g id="a220"><circle cx="807" cy="1874" r="25"/></g><g id="a221"><circle cx="1011" cy="1870" r="25"/></g><g id="a222"><circle cx="1111" cy="1837" r="25"/></g><g id="a223"><circle cx="1209" cy="1848" r="25"/></g><g id="a224"><circle cx="1319" cy="1871" r="25"/></g><g id="a225"><circle cx="1443" cy="1840" r="25"/></g><g id="a226"><circle cx="1631" cy="1809" r="25"/></g><g id="a227"><circle cx="1714" cy="1848" r="25"/></g>
<g id="a228"><circle cx="612" cy="1921" r="25"/></g><g id="a229"><circle cx="703" cy="1975" r="25"/></g><g id="a230"><circle cx="810" cy="1972" r="25"/></g><g id="a231"><circle cx="924" cy="1952" r="25"/></g><g id="a232"><circle cx="1054" cy="1960" r="25"/></g><g id="a233"><circle cx="1165" cy="1937" r="25"/></g><g id="a234"><circle cx="1393" cy="1933" r="25"/></g><g id="a235"><circle cx="1624" cy="1929" r="25"/></g><g id="a236"><circle cx="1269" cy="1972" r="25"/></g><g id="a237"><circle cx="1526" cy="1968" r="25"/></g>
<g id="a238"><circle cx="880" cy="2042" r="25"/></g><g id="a239"><circle cx="981" cy="2042" r="25"/></g><g id="a240"><circle cx="1065" cy="2081" r="25"/></g><g id="a241"><circle cx="1145" cy="2042" r="25"/></g><g id="a242"><circle cx="1241" cy="2073" r="25"/></g><g id="a243"><circle cx="1446" cy="2016" r="25"/></g>
</g>
<g class="g">
<g id="ag1"><circle cx="1047" cy="253" r="20"/></g><g id="ag2"><circle cx="1078" cy="345" r="20"/></g><g id="ag3"><circle cx="1533" cy="457" r="20"/></g><g id="ag4"><circle cx="1205" cy="568" r="20"/></g><g id="ag5"><circle cx="1680" cy="730" r="20"/></g><g id="ag6"><circle cx="238" cy="913" r="20"/></g><g id="ag7"><circle cx="627" cy="947" r="20"/></g><g id="ag8"><circle cx="1517" cy="1045" r="20"/></g><g id="ag9"><circle cx="1737" cy="1022" r="20"/></g><g id="ag10"><circle cx="415" cy="1064" r="20"/></g><g id="ag11"><circle cx="753" cy="1437" r="20"/></g><g id="ag12"><circle cx="1393" cy="1385" r="20"/></g><g id="ag13"><circle cx="884" cy="1522" r="20"/></g><g id="ag14"><circle cx="1245" cy="1615" r="20"/></g><g id="ag15"><circle cx="1611" cy="1610" r="20"/></g><g id="ag16"><circle cx="639" cy="1669" r="20"/></g><g id="ag17"><circle cx="1243" cy="1739" r="20"/></g><g id="ag18"><circle cx="1533" cy="1856" r="20"/></g>
</g>
<g class="p">
<g id="a-uncultured"><circle cx="522" cy="455" r="30"/></g><g id="a-RBG-13-54-9"><circle cx="1024" cy="862" r="27"/></g><g id="a-M1A02"><circle cx="482" cy="1009" r="31"/></g><g id="a-Saccharimonadales"><circle cx="214" cy="1020" r="32"/></g><g id="a-OLB13"><circle cx="1788" cy="1168" r="28"/></g><g id="a-Candidatus_Kuenenia"><circle cx="352" cy="1258" r="27"/></g><g id="a-Thauera"><circle cx="1792" cy="1332" r="28"/></g><g id="a-Nitrosomonas"><circle cx="1055" cy="1421" r="28"/></g><g id="a-Candidatus_Competibacter"><circle cx="1178" cy="1537" r="31"/></g><g id="a-SBR1031"><circle cx="906" cy="1866" r="28"/></g><g id="a-Ignavibacterium"><circle cx="1788" cy="1794" r="28"/></g><g id="a-Denitratisoma"><circle cx="1343" cy="2042" r="28"/></g>
</g>
</g>
<g id="nodes-B">
<g class="o">
<g id="b1"><circle cx="2981" cy="339" r="25"/></g><g id="b2"><circle cx="3107" cy="323" r="25"/></g><g id="b3"><circle cx="3443" cy="373" r="25"/></g><g id="b4"><circle cx="3543" cy="393" r="25"/></g><g id="b5"><circle cx="3053" cy="415" r="25"/></g><g id="b6"><circle cx="3160" cy="416" r="25"/></g><g id="b7"><circle cx="3269" cy="401" r="25"/></g><g id="b8"><circle cx="2926" cy="422" r="25"/></g><g id="b9"><circle cx="2724" cy="450" r="25"/></g><g id="b10"><circle cx="2816" cy="481" r="25"/></g><g id="b11"><circle cx="2640" cy="505" r="25"/></g><g id="b12"><circle cx="3229" cy="494" r="25"/></g><g id="b13"><circle cx="3359" cy="450" r="25"/></g><g id="b14"><circle cx="3459" cy="469" r="25"/></g><g id="b15"><circle cx="3667" cy="453" r="25"/></g><g id="b16"><circle cx="3747" cy="533" r="25"/></g><g id="b17"><circle cx="3319" cy="551" r="25"/></g><g id="b18"><circle cx="3422" cy="570" r="25"/></g><g id="b19"><circle cx="3649" cy="564" r="25"/></g><g id="b20"><circle cx="3827" cy="592" r="25"/></g>
<g id="b21"><circle cx="2571" cy="579" r="25"/></g><g id="b22"><circle cx="2723" cy="568" r="25"/></g><g id="b23"><circle cx="2917" cy="568" r="25"/></g><g id="b24"><circle cx="3001" cy="542" r="25"/></g><g id="b25"><circle cx="3088" cy="556" r="25"/></g><g id="b26"><circle cx="3160" cy="603" r="25"/></g><g id="b27"><circle cx="2495" cy="646" r="25"/></g><g id="b28"><circle cx="2653" cy="646" r="25"/></g><g id="b29"><circle cx="2839" cy="627" r="25"/></g><g id="b30"><circle cx="2921" cy="660" r="25"/></g><g id="b31"><circle cx="3007" cy="631" r="25"/></g><g id="b32"><circle cx="3084" cy="665" r="25"/></g><g id="b33"><circle cx="3225" cy="662" r="25"/></g><g id="b34"><circle cx="3367" cy="662" r="25"/></g><g id="b35"><circle cx="3466" cy="677" r="25"/></g><g id="b36"><circle cx="3600" cy="663" r="25"/></g><g id="b37"><circle cx="3711" cy="644" r="25"/></g><g id="b38"><circle cx="3885" cy="683" r="25"/></g><g id="b39"><circle cx="3790" cy="714" r="25"/></g>
<g id="b40"><circle cx="2432" cy="730" r="25"/></g><g id="b41"><circle cx="2562" cy="717" r="25"/></g><g id="b42"><circle cx="2662" cy="753" r="25"/></g><g id="b43"><circle cx="2883" cy="738" r="25"/></g><g id="b44"><circle cx="2984" cy="727" r="25"/></g><g id="b45"><circle cx="3155" cy="714" r="25"/></g><g id="b46"><circle cx="3249" cy="750" r="25"/></g><g id="b47"><circle cx="3073" cy="766" r="25"/></g><g id="b48"><circle cx="3388" cy="766" r="25"/></g><g id="b49"><circle cx="3533" cy="753" r="25"/></g><g id="b50"><circle cx="3644" cy="758" r="25"/></g><g id="b51"><circle cx="3945" cy="758" r="25"/></g><g id="b52"><circle cx="3742" cy="794" r="25"/></g><g id="b53"><circle cx="3851" cy="800" r="25"/></g><g id="b54"><circle cx="3988" cy="839" r="25"/></g>
<g id="b55"><circle cx="2379" cy="831" r="25"/></g><g id="b56"><circle cx="2794" cy="781" r="25"/></g><g id="b57"><circle cx="2993" cy="818" r="25"/></g><g id="b58"><circle cx="3162" cy="806" r="25"/></g><g id="b59"><circle cx="3241" cy="842" r="25"/></g><g id="b60"><circle cx="2816" cy="874" r="25"/></g><g id="b61"><circle cx="3102" cy="867" r="25"/></g><g id="b62"><circle cx="3466" cy="829" r="25"/></g><g id="b63"><circle cx="3577" cy="851" r="25"/></g><g id="b64"><circle cx="3696" cy="874" r="25"/></g><g id="b65"><circle cx="3803" cy="893" r="25"/></g><g id="b66"><circle cx="3901" cy="893" r="25"/></g><g id="b67"><circle cx="4008" cy="929" r="25"/></g>
<g id="b68"><circle cx="2682" cy="890" r="25"/></g><g id="b69"><circle cx="2940" cy="896" r="25"/></g><g id="b70"><circle cx="3028" cy="912" r="25"/></g><g id="b71"><circle cx="3189" cy="912" r="25"/></g><g id="b72"><circle cx="3375" cy="885" r="25"/></g><g id="b73"><circle cx="2338" cy="932" r="25"/></g><g id="b74"><circle cx="2443" cy="913" r="25"/></g><g id="b75"><circle cx="2545" cy="924" r="25"/></g><g id="b76"><circle cx="2867" cy="944" r="25"/></g><g id="b77"><circle cx="3489" cy="932" r="25"/></g><g id="b78"><circle cx="3609" cy="944" r="25"/></g><g id="b79"><circle cx="3738" cy="968" r="25"/></g><g id="b80"><circle cx="3124" cy="968" r="25"/></g><g id="b81"><circle cx="3332" cy="966" r="25"/></g>
<g id="b82"><circle cx="2637" cy="980" r="25"/></g><g id="b83"><circle cx="2953" cy="989" r="25"/></g><g id="b84"><circle cx="3044" cy="999" r="25"/></g><g id="b85"><circle cx="3834" cy="1003" r="25"/></g><g id="b86"><circle cx="3924" cy="989" r="25"/></g><g id="b87"><circle cx="4058" cy="1025" r="25"/></g><g id="b88"><circle cx="2314" cy="1033" r="25"/></g><g id="b89"><circle cx="2425" cy="1013" r="25"/></g><g id="b90"><circle cx="2531" cy="1028" r="25"/></g><g id="b91"><circle cx="3242" cy="1037" r="25"/></g><g id="b92"><circle cx="3539" cy="1028" r="25"/></g><g id="b93"><circle cx="3345" cy="1072" r="25"/></g><g id="b94"><circle cx="2826" cy="1075" r="25"/></g><g id="b95"><circle cx="3756" cy="1084" r="25"/></g><g id="b96"><circle cx="3961" cy="1087" r="25"/></g><g id="b97"><circle cx="2633" cy="1079" r="25"/></g>
<g id="b98"><circle cx="2412" cy="1110" r="25"/></g><g id="b99"><circle cx="2301" cy="1131" r="25"/></g><g id="b100"><circle cx="2515" cy="1131" r="25"/></g><g id="b101"><circle cx="2727" cy="1118" r="25"/></g><g id="b102"><circle cx="2906" cy="1134" r="25"/></g><g id="b103"><circle cx="3009" cy="1129" r="25"/></g><g id="b104"><circle cx="3128" cy="1114" r="25"/></g><g id="b105"><circle cx="3235" cy="1137" r="25"/></g><g id="b106"><circle cx="3365" cy="1168" r="25"/></g><g id="b107"><circle cx="3459" cy="1126" r="25"/></g><g id="b108"><circle cx="3677" cy="1157" r="25"/></g><g id="b109"><circle cx="3863" cy="1129" r="25"/></g><g id="b110"><circle cx="4064" cy="1121" r="25"/></g><g id="b111"><circle cx="3774" cy="1196" r="25"/></g><g id="b112"><circle cx="4068" cy="1211" r="25"/></g>
<g id="b113"><circle cx="2616" cy="1177" r="25"/></g><g id="b114"><circle cx="2807" cy="1191" r="25"/></g><g id="b115"><circle cx="2397" cy="1207" r="25"/></g><g id="b116"><circle cx="2294" cy="1238" r="25"/></g><g id="b117"><circle cx="2506" cy="1235" r="25"/></g><g id="b118"><circle cx="2709" cy="1235" r="25"/></g><g id="b119"><circle cx="2919" cy="1235" r="25"/></g><g id="b120"><circle cx="3053" cy="1214" r="25"/></g><g id="b121"><circle cx="3158" cy="1219" r="25"/></g><g id="b122"><circle cx="3272" cy="1227" r="25"/></g><g id="b123"><circle cx="3857" cy="1261" r="25"/></g><g id="b124"><circle cx="3971" cy="1286" r="25"/></g><g id="b125"><circle cx="4072" cy="1317" r="25"/></g>
<g id="b126"><circle cx="2610" cy="1284" r="25"/></g><g id="b127"><circle cx="2823" cy="1292" r="25"/></g><g id="b128"><circle cx="2997" cy="1301" r="25"/></g><g id="b129"><circle cx="3098" cy="1323" r="25"/></g><g id="b130"><circle cx="3198" cy="1320" r="25"/></g><g id="b131"><circle cx="3408" cy="1301" r="25"/></g><g id="b132"><circle cx="3503" cy="1289" r="25"/></g><g id="b133"><circle cx="3593" cy="1289" r="25"/></g><g id="b134"><circle cx="3676" cy="1323" r="25"/></g><g id="b135"><circle cx="2408" cy="1305" r="25"/></g><g id="b136"><circle cx="2511" cy="1336" r="25"/></g><g id="b137"><circle cx="2716" cy="1336" r="25"/></g>
<g id="b138"><circle cx="3323" cy="1377" r="25"/></g><g id="b139"><circle cx="3422" cy="1377" r="25"/></g><g id="b140"><circle cx="3497" cy="1371" r="25"/></g><g id="b141"><circle cx="3577" cy="1364" r="25"/></g><g id="b142"><circle cx="3649" cy="1401" r="25"/></g><g id="b143"><circle cx="3744" cy="1377" r="25"/></g><g id="b144"><circle cx="3918" cy="1367" r="25"/></g><g id="b145"><circle cx="2609" cy="1387" r="25"/></g><g id="b146"><circle cx="2812" cy="1401" r="25"/></g><g id="b147"><circle cx="3017" cy="1409" r="25"/></g><g id="b148"><circle cx="2424" cy="1413" r="25"/></g><g id="b149"><circle cx="4035" cy="1405" r="25"/></g>
<g id="b150"><circle cx="2328" cy="1447" r="25"/></g><g id="b151"><circle cx="2535" cy="1455" r="25"/></g><g id="b152"><circle cx="2705" cy="1441" r="25"/></g><g id="b153"><circle cx="2913" cy="1452" r="25"/></g><g id="b154"><circle cx="3131" cy="1426" r="25"/></g><g id="b155"><circle cx="3296" cy="1457" r="25"/></g><g id="b156"><circle cx="3379" cy="1468" r="25"/></g><g id="b157"><circle cx="3477" cy="1468" r="25"/></g><g id="b158"><circle cx="3562" cy="1444" r="25"/></g><g id="b159"><circle cx="3713" cy="1452" r="25"/></g><g id="b160"><circle cx="3791" cy="1464" r="25"/></g><g id="b161"><circle cx="3945" cy="1478" r="25"/></g>
<g id="b162"><circle cx="2451" cy="1511" r="25"/></g><g id="b163"><circle cx="2806" cy="1506" r="25"/></g><g id="b164"><circle cx="3011" cy="1514" r="25"/></g><g id="b165"><circle cx="3114" cy="1522" r="25"/></g><g id="b166"><circle cx="3631" cy="1499" r="25"/></g><g id="b167"><circle cx="4032" cy="1511" r="25"/></g><g id="b168"><circle cx="2357" cy="1548" r="25"/></g><g id="b169"><circle cx="2526" cy="1576" r="25"/></g><g id="b170"><circle cx="2719" cy="1561" r="25"/></g><g id="b171"><circle cx="2906" cy="1556" r="25"/></g><g id="b172"><circle cx="3276" cy="1542" r="25"/></g><g id="b173"><circle cx="3355" cy="1548" r="25"/></g><g id="b174"><circle cx="3446" cy="1545" r="25"/></g><g id="b175"><circle cx="3542" cy="1545" r="25"/></g><g id="b176"><circle cx="3720" cy="1537" r="25"/></g><g id="b177"><circle cx="3801" cy="1553" r="25"/></g><g id="b178"><circle cx="3631" cy="1581" r="25"/></g>
<g id="b179"><circle cx="2421" cy="1628" r="25"/></g><g id="b180"><circle cx="2636" cy="1628" r="25"/></g><g id="b181"><circle cx="2812" cy="1620" r="25"/></g><g id="b182"><circle cx="2919" cy="1657" r="25"/></g><g id="b183"><circle cx="3017" cy="1615" r="25"/></g><g id="b184"><circle cx="3124" cy="1623" r="25"/></g><g id="b185"><circle cx="3296" cy="1631" r="25"/></g><g id="b186"><circle cx="3383" cy="1626" r="25"/></g><g id="b187"><circle cx="3482" cy="1623" r="25"/></g><g id="b188"><circle cx="3566" cy="1638" r="25"/></g><g id="b189"><circle cx="3711" cy="1618" r="25"/></g><g id="b190"><circle cx="3787" cy="1638" r="25"/></g><g id="b191"><circle cx="3971" cy="1596" r="25"/></g>
<g id="b192"><circle cx="2549" cy="1682" r="25"/></g><g id="b193"><circle cx="2723" cy="1677" r="25"/></g><g id="b194"><circle cx="3339" cy="1708" r="25"/></g><g id="b195"><circle cx="3426" cy="1693" r="25"/></g><g id="b196"><circle cx="3506" cy="1716" r="25"/></g><g id="b197"><circle cx="3589" cy="1724" r="25"/></g><g id="b198"><circle cx="3656" cy="1677" r="25"/></g><g id="b199"><circle cx="3737" cy="1711" r="25"/></g><g id="b200"><circle cx="2455" cy="1721" r="25"/></g><g id="b201"><circle cx="2633" cy="1750" r="25"/></g><g id="b202"><circle cx="2752" cy="1774" r="25"/></g><g id="b203"><circle cx="2843" cy="1732" r="25"/></g><g id="b204"><circle cx="2957" cy="1755" r="25"/></g><g id="b205"><circle cx="3048" cy="1719" r="25"/></g><g id="b206"><circle cx="3162" cy="1724" r="25"/></g><g id="b207"><circle cx="3412" cy="1770" r="25"/></g><g id="b208"><circle cx="3493" cy="1797" r="25"/></g><g id="b209"><circle cx="3580" cy="1801" r="25"/></g><g id="b210"><circle cx="3669" cy="1767" r="25"/></g><g id="b211"><circle cx="3862" cy="1797" r="25"/></g>
<g id="b212"><circle cx="2528" cy="1794" r="25"/></g><g id="b213"><circle cx="2883" cy="1833" r="25"/></g><g id="b214"><circle cx="3092" cy="1809" r="25"/></g><g id="b215"><circle cx="3215" cy="1809" r="25"/></g><g id="b216"><circle cx="2593" cy="1871" r="25"/></g><g id="b217"><circle cx="2686" cy="1851" r="25"/></g><g id="b218"><circle cx="2790" cy="1884" r="25"/></g><g id="b219"><circle cx="2984" cy="1856" r="25"/></g><g id="b220"><circle cx="3080" cy="1907" r="25"/></g><g id="b221"><circle cx="3187" cy="1902" r="25"/></g><g id="b222"><circle cx="3300" cy="1882" r="25"/></g><g id="b223"><circle cx="3770" cy="1884" r="25"/></g>
<g id="b224"><circle cx="2699" cy="1952" r="25"/></g><g id="b225"><circle cx="2881" cy="1938" r="25"/></g><g id="b226"><circle cx="2984" cy="1961" r="25"/></g><g id="b227"><circle cx="3095" cy="2006" r="25"/></g><g id="b228"><circle cx="3202" cy="2003" r="25"/></g><g id="b229"><circle cx="3305" cy="1985" r="25"/></g><g id="b230"><circle cx="3402" cy="1946" r="25"/></g><g id="b231"><circle cx="3506" cy="1954" r="25"/></g><g id="b232"><circle cx="3593" cy="1996" r="25"/></g><g id="b233"><circle cx="3676" cy="1938" r="25"/></g><g id="b234"><circle cx="2798" cy="2003" r="25"/></g><g id="b235"><circle cx="2903" cy="2047" r="25"/></g><g id="b236"><circle cx="3012" cy="2073" r="25"/></g><g id="b237"><circle cx="3135" cy="2097" r="25"/></g><g id="b238"><circle cx="3256" cy="2092" r="25"/></g><g id="b239"><circle cx="3365" cy="2069" r="25"/></g><g id="b240"><circle cx="3468" cy="2047" r="25"/></g>
</g>
<g class="g">
<g id="bg1"><circle cx="3229" cy="311" r="20"/></g><g id="bg2"><circle cx="3530" cy="587" r="20"/></g><g id="bg3"><circle cx="2796" cy="704" r="20"/></g><g id="bg4"><circle cx="2741" cy="1009" r="20"/></g><g id="bg5"><circle cx="3651" cy="1048" r="20"/></g><g id="bg6"><circle cx="2309" cy="1343" r="20"/></g><g id="bg7"><circle cx="2910" cy="1351" r="20"/></g><g id="bg8"><circle cx="3934" cy="1693" r="20"/></g>
</g>
<g class="p">
<g id="b-Nitrosomonas"><circle cx="3352" cy="329" r="30"/></g><g id="b-uncultured"><circle cx="2839" cy="377" r="30"/></g><g id="b-Candidatus_Brocadia"><circle cx="3570" cy="492" r="28"/></g><g id="b-Candidatus_Kuenenia"><circle cx="2495" cy="812" r="28"/></g><g id="b-SBR1031"><circle cx="3432" cy="1020" r="28"/></g><g id="b-Nitrospira"><circle cx="3566" cy="1129" r="28"/></g><g id="b-Truepera"><circle cx="3948" cy="1188" r="30"/></g><g id="b-SM1A02"><circle cx="2625" cy="1514" r="28"/></g>
</g>
</g>
<g id="nodes-C">
<g class="o">
<g id="c1"><circle cx="5079" cy="326" r="25"/></g><g id="c2"><circle cx="5568" cy="349" r="25"/></g><g id="c3"><circle cx="4932" cy="368" r="25"/></g><g id="c4"><circle cx="5311" cy="380" r="25"/></g><g id="c5"><circle cx="4834" cy="412" r="25"/></g><g id="c6"><circle cx="5163" cy="440" r="25"/></g><g id="c7"><circle cx="5662" cy="453" r="25"/></g><g id="c8"><circle cx="4697" cy="481" r="25"/></g><g id="c9"><circle cx="4805" cy="508" r="25"/></g><g id="c10"><circle cx="5068" cy="508" r="25"/></g><g id="c11"><circle cx="5179" cy="533" r="25"/></g><g id="c12"><circle cx="5845" cy="525" r="25"/></g>
<g id="c13"><circle cx="4588" cy="579" r="25"/></g><g id="c14"><circle cx="4764" cy="603" r="25"/></g><g id="c15"><circle cx="4871" cy="634" r="25"/></g><g id="c16"><circle cx="4992" cy="644" r="25"/></g><g id="c17"><circle cx="5088" cy="610" r="25"/></g><g id="c18"><circle cx="5199" cy="624" r="25"/></g><g id="c19"><circle cx="5329" cy="587" r="25"/></g><g id="c20"><circle cx="5414" cy="634" r="25"/></g><g id="c21"><circle cx="5481" cy="562" r="25"/></g><g id="c22"><circle cx="5695" cy="629" r="25"/></g><g id="c23"><circle cx="5534" cy="660" r="25"/></g><g id="c24"><circle cx="5806" cy="676" r="25"/></g>
<g id="c25"><circle cx="4476" cy="699" r="25"/></g><g id="c26"><circle cx="4742" cy="699" r="25"/></g><g id="c27"><circle cx="4929" cy="733" r="25"/></g><g id="c28"><circle cx="5043" cy="742" r="25"/></g><g id="c29"><circle cx="5146" cy="717" r="25"/></g><g id="c30"><circle cx="5437" cy="733" r="25"/></g><g id="c31"><circle cx="5246" cy="764" r="25"/></g><g id="c32"><circle cx="5356" cy="773" r="25"/></g><g id="c33"><circle cx="5698" cy="758" r="25"/></g><g id="c34"><circle cx="4610" cy="761" r="25"/></g><g id="c35"><circle cx="4831" cy="758" r="25"/></g>
<g id="c36"><circle cx="4410" cy="800" r="25"/></g><g id="c37"><circle cx="4510" cy="846" r="25"/></g><g id="c38"><circle cx="4771" cy="843" r="25"/></g><g id="c39"><circle cx="4901" cy="834" r="25"/></g><g id="c40"><circle cx="5039" cy="846" r="25"/></g><g id="c41"><circle cx="5139" cy="820" r="25"/></g><g id="c42"><circle cx="5226" cy="865" r="25"/></g><g id="c43"><circle cx="5340" cy="874" r="25"/></g><g id="c44"><circle cx="5665" cy="877" r="25"/></g><g id="c45"><circle cx="5927" cy="795" r="25"/></g><g id="c46"><circle cx="5825" cy="851" r="25"/></g><g id="c47"><circle cx="6066" cy="839" r="25"/></g>
<g id="c48"><circle cx="4343" cy="935" r="25"/></g><g id="c49"><circle cx="4452" cy="981" r="25"/></g><g id="c50"><circle cx="4791" cy="932" r="25"/></g><g id="c51"><circle cx="4934" cy="921" r="25"/></g><g id="c52"><circle cx="5066" cy="936" r="25"/></g><g id="c53"><circle cx="5163" cy="950" r="25"/></g><g id="c54"><circle cx="5391" cy="978" r="25"/></g><g id="c55"><circle cx="5491" cy="968" r="25"/></g><g id="c56"><circle cx="5621" cy="978" r="25"/></g><g id="c57"><circle cx="5799" cy="983" r="25"/></g><g id="c58"><circle cx="5949" cy="929" r="25"/></g><g id="c59"><circle cx="6110" cy="975" r="25"/></g>
<g id="c60"><circle cx="4865" cy="1006" r="25"/></g><g id="c61"><circle cx="4981" cy="1013" r="25"/></g><g id="c62"><circle cx="5137" cy="1036" r="25"/></g><g id="c63"><circle cx="5242" cy="1033" r="25"/></g><g id="c64"><circle cx="4286" cy="1059" r="25"/></g><g id="c65"><circle cx="4546" cy="1059" r="25"/></g><g id="c66"><circle cx="4681" cy="1056" r="25"/></g><g id="c67"><circle cx="5454" cy="1087" r="25"/></g><g id="c68"><circle cx="5724" cy="1082" r="25"/></g><g id="c69"><circle cx="5893" cy="1103" r="25"/></g>
<g id="c70"><circle cx="4430" cy="1115" r="25"/></g><g id="c71"><circle cx="4800" cy="1129" r="25"/></g><g id="c72"><circle cx="4918" cy="1145" r="25"/></g><g id="c73"><circle cx="5015" cy="1114" r="25"/></g><g id="c74"><circle cx="5103" cy="1152" r="25"/></g><g id="c75"><circle cx="5237" cy="1141" r="25"/></g><g id="c76"><circle cx="5625" cy="1129" r="25"/></g><g id="c77"><circle cx="6134" cy="1141" r="25"/></g><g id="c78"><circle cx="4580" cy="1173" r="25"/></g><g id="c79"><circle cx="5534" cy="1188" r="25"/></g>
<g id="c80"><circle cx="4313" cy="1200" r="25"/></g><g id="c81"><circle cx="4436" cy="1239" r="25"/></g><g id="c82"><circle cx="4711" cy="1261" r="25"/></g><g id="c83"><circle cx="5340" cy="1247" r="25"/></g><g id="c84"><circle cx="5746" cy="1235" r="25"/></g><g id="c85"><circle cx="5873" cy="1242" r="25"/></g><g id="c86"><circle cx="6003" cy="1200" r="25"/></g><g id="c87"><circle cx="6139" cy="1277" r="25"/></g><g id="c88"><circle cx="5096" cy="1297" r="25"/></g>
<g id="c89"><circle cx="4296" cy="1323" r="25"/></g><g id="c90"><circle cx="4553" cy="1323" r="25"/></g><g id="c91"><circle cx="4821" cy="1331" r="25"/></g><g id="c92"><circle cx="5478" cy="1339" r="25"/></g><g id="c93"><circle cx="5637" cy="1323" r="25"/></g><g id="c94"><circle cx="6019" cy="1336" r="25"/></g><g id="c95"><circle cx="5876" cy="1362" r="25"/></g><g id="c96"><circle cx="5762" cy="1385" r="25"/></g>
<g id="c97"><circle cx="4452" cy="1393" r="25"/></g><g id="c98"><circle cx="4660" cy="1402" r="25"/></g><g id="c99"><circle cx="4787" cy="1432" r="25"/></g><g id="c100"><circle cx="4956" cy="1421" r="25"/></g><g id="c101"><circle cx="5186" cy="1452" r="25"/></g><g id="c102"><circle cx="5316" cy="1441" r="25"/></g><g id="c103"><circle cx="5617" cy="1452" r="25"/></g><g id="c104"><circle cx="6110" cy="1421" r="25"/></g><g id="c105"><circle cx="5936" cy="1464" r="25"/></g><g id="c106"><circle cx="4322" cy="1463" r="25"/></g><g id="c107"><circle cx="4550" cy="1491" r="25"/></g>
<g id="c108"><circle cx="4420" cy="1527" r="25"/></g><g id="c109"><circle cx="4681" cy="1548" r="25"/></g><g id="c110"><circle cx="4865" cy="1572" r="25"/></g><g id="c111"><circle cx="4968" cy="1550" r="25"/></g><g id="c112"><circle cx="5246" cy="1542" r="25"/></g><g id="c113"><circle cx="5370" cy="1558" r="25"/></g><g id="c114"><circle cx="5795" cy="1530" r="25"/></g><g id="c115"><circle cx="6070" cy="1545" r="25"/></g><g id="c116"><circle cx="5518" cy="1589" r="25"/></g><g id="c117"><circle cx="5672" cy="1576" r="25"/></g><g id="c118"><circle cx="5920" cy="1595" r="25"/></g>
<g id="c119"><circle cx="4543" cy="1612" r="25"/></g><g id="c120"><circle cx="4399" cy="1635" r="25"/></g><g id="c121"><circle cx="5036" cy="1634" r="25"/></g><g id="c122"><circle cx="5307" cy="1643" r="25"/></g><g id="c123"><circle cx="4909" cy="1690" r="25"/></g><g id="c124"><circle cx="5196" cy="1673" r="25"/></g><g id="c125"><circle cx="5424" cy="1673" r="25"/></g><g id="c126"><circle cx="5525" cy="1693" r="25"/></g><g id="c127"><circle cx="5695" cy="1693" r="25"/></g><g id="c128"><circle cx="5820" cy="1690" r="25"/></g><g id="c129"><circle cx="6007" cy="1677" r="25"/></g>
<g id="c130"><circle cx="4467" cy="1747" r="25"/></g><g id="c131"><circle cx="4594" cy="1728" r="25"/></g><g id="c132"><circle cx="4791" cy="1735" r="25"/></g><g id="c133"><circle cx="5003" cy="1747" r="25"/></g><g id="c134"><circle cx="5099" cy="1747" r="25"/></g><g id="c135"><circle cx="5313" cy="1747" r="25"/></g><g id="c136"><circle cx="5434" cy="1783" r="25"/></g><g id="c137"><circle cx="5206" cy="1786" r="25"/></g><g id="c138"><circle cx="5591" cy="1783" r="25"/></g><g id="c139"><circle cx="5728" cy="1809" r="25"/></g><g id="c140"><circle cx="5899" cy="1786" r="25"/></g>
<g id="c141"><circle cx="4530" cy="1848" r="25"/></g><g id="c142"><circle cx="4898" cy="1822" r="25"/></g><g id="c143"><circle cx="5012" cy="1853" r="25"/></g><g id="c144"><circle cx="5129" cy="1871" r="25"/></g><g id="c145"><circle cx="5337" cy="1851" r="25"/></g><g id="c146"><circle cx="5826" cy="1892" r="25"/></g><g id="c147"><circle cx="4651" cy="1913" r="25"/></g><g id="c148"><circle cx="4882" cy="1933" r="25"/></g><g id="c149"><circle cx="5021" cy="1952" r="25"/></g><g id="c150"><circle cx="5133" cy="1980" r="25"/></g><g id="c151"><circle cx="5327" cy="1972" r="25"/></g><g id="c152"><circle cx="5591" cy="1957" r="25"/></g><g id="c153"><circle cx="5704" cy="1960" r="25"/></g>
<g id="c154"><circle cx="4738" cy="1988" r="25"/></g><g id="c155"><circle cx="5224" cy="2034" r="25"/></g><g id="c156"><circle cx="5434" cy="2016" r="25"/></g><g id="c157"><circle cx="4865" cy="2065" r="25"/></g><g id="c158"><circle cx="5015" cy="2081" r="25"/></g><g id="c159"><circle cx="5327" cy="2092" r="25"/></g><g id="c160"><circle cx="5550" cy="2062" r="25"/></g>
</g>
<g class="g">
<g id="cg1"><circle cx="4968" cy="547" r="20"/></g><g id="cg2"><circle cx="5524" cy="764" r="20"/></g><g id="cg3"><circle cx="5434" cy="857" r="20"/></g><g id="cg4"><circle cx="5340" cy="1087" r="20"/></g><g id="cg5"><circle cx="6024" cy="1064" r="20"/></g><g id="cg6"><circle cx="5129" cy="1584" r="20"/></g><g id="cg7"><circle cx="4744" cy="1825" r="20"/></g><g id="cg8"><circle cx="5524" cy="1859" r="20"/></g><g id="cg9"><circle cx="5244" cy="1907" r="20"/></g><g id="cg10"><circle cx="5431" cy="1910" r="20"/></g><g id="cg11"><circle cx="5126" cy="2115" r="20"/></g>
</g>
<g class="p">
<g id="c-AKYG1722"><circle cx="5284" cy="311" r="32"/></g><g id="c-A4b"><circle cx="5437" cy="388" r="36"/></g><g id="c-uncultured"><circle cx="5277" cy="497" r="38"/></g><g id="c-OLB13"><circle cx="5976" cy="668" r="31"/></g><g id="c-Truepera"><circle cx="5300" cy="679" r="32"/></g><g id="c-Arenimonas"><circle cx="5528" cy="865" r="30"/></g><g id="c-Nitrosomonas"><circle cx="4590" cy="940" r="34"/></g><g id="c-Thauera"><circle cx="5293" cy="955" r="32"/></g><g id="c-SBR1031"><circle cx="5083" cy="1483" r="30"/></g><g id="c-JG30-KF-CM45"><circle cx="5451" cy="1491" r="30"/></g><g id="c-Candidatus_Kuenenia"><circle cx="4724" cy="1646" r="38"/></g>
</g>
</g>
<g id="labels">
<text class="la" x="408" y="485">uncultured</text>
<text class="la" x="877" y="885">RBG-13-54-9</text>
<text class="la" x="388" y="975">M1A02</text>
<text class="la" x="47" y="1106">Saccharimonadales</text>
<text class="la" x="1707" y="1199">OLB13</text>
<text class="la" x="118" y="1286">Candidatus_Kuenenia</text>
<text class="la" x="1700" y="1362">Thauera</text>
<text class="la" x="900" y="1444">Nitrosomonas</text>
<text class="la" x="884" y="1607">Candidatus_Competibacter</text>
<text class="la" x="1563" y="1820">Ignavibacterium</text>
<text class="la" x="801" y="1890">SBR1031</text>
<text class="la" x="1196" y="2073">Denitratisoma</text>
<text class="lb" x="3205" y="360">Nitrosomonas</text>
<text class="lb" x="2727" y="404">uncultured</text>
<text class="lb" x="3343" y="520">Candidatus_Brocadia</text>
<text class="lb" x="2261" y="836">Candidatus_Kuenenia</text>
<text class="lb" x="3329" y="1044">SBR1031</text>
<text class="lb" x="3462" y="1154">Nitrospira</text>
<text class="lb" x="3805" y="1214">Truepera</text>
<text class="lb" x="2528" y="1537">SM1A02</text>
<text class="lc" x="5137" y="337">AKYG1722</text>
<text class="lc" x="5474" y="416">A4b</text>
<text class="lc" x="5269" y="536">uncultured</text>
<text class="lc" x="5882" y="688">OLB13</text>
<text class="lc" x="5193" y="702">Truepera</text>
<text class="lc" x="5380" y="901">Arenimonas</text>
<text class="lc" x="4420" y="963">Nitrosomonas</text>
<text class="lc" x="5197" y="999">Thauera</text>
<text class="lc" x="4965" y="1511">SBR1031</text>
<text class="lc" x="5284" y="1514">JG30-KF-CM45</text>
<text class="lc" x="4456" y="1699">Candidatus_Kuenenia</text>
</g>
<g id="panel-titles">
<text class="h" x="180" y="149">A )</text>
<text class="h" x="2187" y="151">B )</text>
<text class="h" x="4172" y="151">C )</text>
<text class="ti" x="1005" y="2386">SS</text>
<text class="ti" x="3168" y="2386">Biofilm</text>
<text class="ti" x="5180" y="2386">IFAS</text>
</g>
</svg>
